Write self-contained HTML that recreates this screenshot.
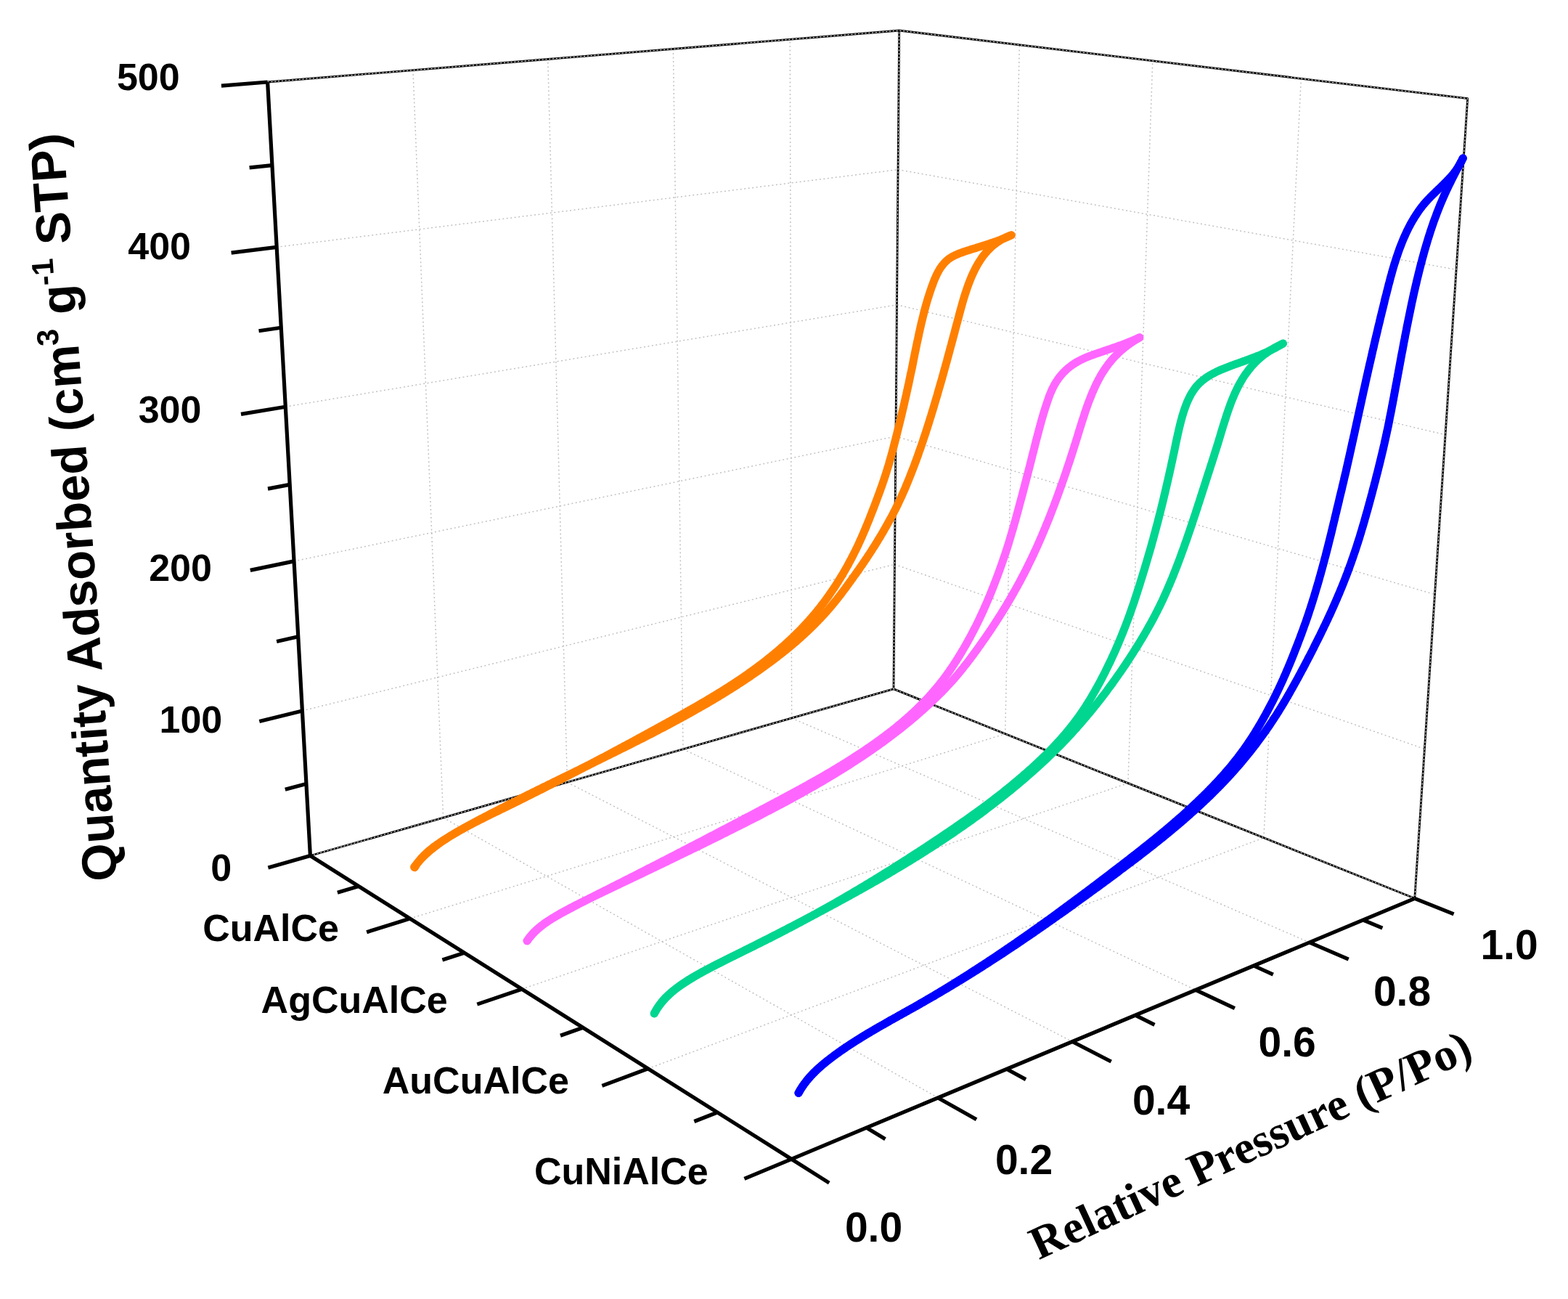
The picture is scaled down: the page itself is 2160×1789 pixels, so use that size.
<!DOCTYPE html>
<html lang="en">
<head>
<meta charset="utf-8">
<title>N2 adsorption-desorption isotherms</title>
<style>
html,body{margin:0;padding:0;background:#fff;}
body{width:2160px;height:1789px;overflow:hidden;}
svg{display:block;}
text{font-family:"Liberation Sans",Arial,Helvetica,sans-serif;font-weight:bold;fill:#000;}
text.serif{font-family:"Liberation Serif","Times New Roman",Times,serif;}
.g{stroke:#c2c2c2;stroke-width:1.5;stroke-dasharray:2 3.5;fill:none;}
.e{stroke:#000;stroke-width:2.8;fill:none;stroke-linejoin:round;}
.e2{stroke:#fff;stroke-width:1;fill:none;stroke-dasharray:2.2 2.6;}
.a{stroke:#000;stroke-width:5.2;fill:none;stroke-linejoin:miter;stroke-linecap:butt;}
.t{stroke:#000;stroke-width:5.2;stroke-linecap:butt;}
</style>
</head>
<body>
<svg xmlns="http://www.w3.org/2000/svg" width="2160" height="1789" viewBox="0 0 2160 1789">
<rect width="2160" height="1789" fill="#fff"/>
<g id="grid"><line class="g" x1="610.6" y1="1126.2" x2="568.9" y2="96.7"/><line class="g" x1="610.6" y1="1126.2" x2="1292.2" y2="1511.9"/><line class="g" x1="781.4" y1="1077.4" x2="754.7" y2="81.5"/><line class="g" x1="781.4" y1="1077.4" x2="1477.2" y2="1434.5"/><line class="g" x1="941" y1="1031.8" x2="927.4" y2="67.4"/><line class="g" x1="941" y1="1031.8" x2="1647.1" y2="1363.4"/><line class="g" x1="1090.6" y1="989" x2="1088.3" y2="54.3"/><line class="g" x1="1090.6" y1="989" x2="1803.8" y2="1297.9"/><line class="g" x1="1384.7" y1="1010.7" x2="1404.3" y2="61.8"/><line class="g" x1="564.8" y1="1265.1" x2="1384.7" y2="1010.7"/><line class="g" x1="1553.9" y1="1078.6" x2="1587.8" y2="83.8"/><line class="g" x1="718.8" y1="1362.2" x2="1553.9" y2="1078.6"/><line class="g" x1="1740.9" y1="1153.8" x2="1792.3" y2="108.3"/><line class="g" x1="892.6" y1="1471.8" x2="1740.9" y2="1153.8"/><line class="g" x1="416.4" y1="978.9" x2="1232.4" y2="777.3"/><line class="g" x1="1232.4" y1="777.3" x2="1962.4" y2="1031.5"/><line class="g" x1="405" y1="772.9" x2="1233.9" y2="601"/><line class="g" x1="1233.9" y1="601" x2="1976.5" y2="818.7"/><line class="g" x1="393.3" y1="560.2" x2="1235.5" y2="419.8"/><line class="g" x1="1235.5" y1="419.8" x2="1991" y2="598.8"/><line class="g" x1="381.2" y1="340.3" x2="1237.1" y2="233.6"/><line class="g" x1="1237.1" y1="233.6" x2="2006.1" y2="371.3"/></g>
<g id="edges"><polyline class="e" points="368.6,113 1238.7,42 2021.7,135.7 1948.8,1237.3 1231,948.9 427.4,1178.5"/><line class="e" x1="1231" y1="948.9" x2="1238.7" y2="42"/><polyline class="e2" points="368.6,113 1238.7,42 2021.7,135.7 1948.8,1237.3 1231,948.9 427.4,1178.5"/><line class="e2" x1="1231" y1="948.9" x2="1238.7" y2="42"/></g>
<g id="curves" fill="none" stroke-width="11" stroke-linecap="round" stroke-linejoin="round"><g stroke="#ff8000"><path d="M571.3 1194.8L572.6 1192.6L574 1190.4L575.4 1188.3L576.9 1186.2L578.4 1184.3L580 1182.3L581.7 1180.5L583.4 1178.7L585.2 1176.9L587 1175.2L588.9 1173.5L590.7 1171.8L592.7 1170.2L594.6 1168.7L596.6 1167.1L598.7 1165.6L600.7 1164.1L602.8 1162.7L604.9 1161.3L607 1159.8L609.1 1158.4L611.3 1157L613.4 1155.7L615.6 1154.3L617.8 1152.9L620 1151.6L622.2 1150.3L624.4 1149L626.6 1147.7L628.9 1146.4L631.1 1145.1L633.4 1143.8L635.7 1142.5L637.9 1141.3L640.2 1140L642.5 1138.8L644.8 1137.6L647.1 1136.4L649.5 1135.1L651.8 1133.9L654.1 1132.7L656.5 1131.5L658.8 1130.3L661.1 1129.1L663.5 1128L665.8 1126.8L668.2 1125.6L670.6 1124.4L672.9 1123.3L675.3 1122.1L677.7 1120.9L680 1119.8L682.4 1118.6L684.8 1117.5L687.2 1116.3L689.5 1115.1L691.9 1114L694.3 1112.8L696.7 1111.7L699 1110.5L701.4 1109.3L703.8 1108.2L706.1 1107L708.5 1105.8L710.9 1104.7L713.2 1103.5L715.6 1102.3L718 1101.1L720.3 1100L722.7 1098.8L725 1097.6L727.4 1096.4L729.7 1095.3L732.1 1094.1L734.5 1092.9L736.8 1091.7L739.2 1090.5L741.5 1089.4L743.9 1088.2L746.2 1087L748.5 1085.8L750.9 1084.6L753.2 1083.4L755.6 1082.2L757.9 1081L760.3 1079.8L762.6 1078.6L764.9 1077.4L767.3 1076.2L769.6 1075L771.9 1073.8L774.3 1072.6L776.6 1071.4L778.9 1070.2L781.3 1069L783.6 1067.8L785.9 1066.6L788.3 1065.4L790.6 1064.2L792.9 1063L795.2 1061.8L797.6 1060.6L799.9 1059.4L802.2 1058.2L804.5 1056.9L806.8 1055.7L809.2 1054.5L811.5 1053.3L813.8 1052.1L816.1 1050.9L818.4 1049.6L820.7 1048.4L823 1047.2L825.3 1046L827.7 1044.7L830 1043.5L832.3 1042.3L834.6 1041.1L836.9 1039.8L839.2 1038.6L841.5 1037.4L843.8 1036.2L846.1 1034.9L848.4 1033.7L850.7 1032.5L853 1031.2L855.3 1030L857.6 1028.7L859.9 1027.5L862.2 1026.3L864.5 1025L866.8 1023.8L869.1 1022.6L871.4 1021.3L873.7 1020.1L876 1018.8L878.3 1017.6L880.5 1016.3L882.8 1015.1L885.1 1013.9L887.4 1012.6L889.7 1011.4L892 1010.1L894.3 1008.9L896.6 1007.6L898.8 1006.4L901.1 1005.1L903.4 1003.9L905.7 1002.6L908 1001.4L910.2 1000.1L912.5 998.9L914.8 997.6L917.1 996.3L919.4 995.1L921.6 993.8L923.9 992.6L926.2 991.3L928.5 990.1L930.7 988.8L933 987.5L935.3 986.3L937.5 985L939.8 983.7L942.1 982.5L944.3 981.2L946.6 979.9L948.9 978.6L951.1 977.4L953.4 976.1L955.6 974.8L957.9 973.5L960.1 972.2L962.3 970.9L964.6 969.6L966.8 968.3L969 967L971.3 965.7L973.5 964.4L975.7 963.1L977.9 961.8L980.1 960.4L982.3 959.1L984.6 957.8L986.7 956.5L988.9 955.1L991.1 953.8L993.3 952.4L995.5 951.1L997.7 949.7L999.8 948.3L1002 947L1004.2 945.6L1006.3 944.2L1008.4 942.8L1010.6 941.4L1012.7 940L1014.8 938.6L1017 937.2L1019.1 935.8L1021.2 934.4L1023.3 932.9L1025.4 931.5L1027.5 930L1029.6 928.6L1031.6 927.1L1033.7 925.6L1035.8 924.2L1037.8 922.7L1039.8 921.2L1041.9 919.7L1043.9 918.2L1045.9 916.7L1048 915.1L1050 913.6L1052 912.1L1054 910.5L1055.9 909L1057.9 907.4L1059.9 905.8L1061.9 904.2L1063.8 902.6L1065.8 901L1067.7 899.4L1069.7 897.8L1071.6 896.2L1073.5 894.5L1075.4 892.9L1077.3 891.2L1079.2 889.5L1081.1 887.8L1083 886.1L1084.9 884.4L1086.8 882.7L1088.6 881L1090.5 879.2L1092.3 877.5L1094.1 875.7L1095.9 874L1097.7 872.2L1099.5 870.4L1101.3 868.6L1103.1 866.8L1104.8 864.9L1106.6 863.1L1108.3 861.3L1110.1 859.4L1111.8 857.5L1113.5 855.6L1115.2 853.8L1116.8 851.8L1118.5 849.9L1120.1 848L1121.8 846.1L1123.4 844.1L1125 842.2L1126.6 840.2L1128.2 838.2L1129.8 836.3L1131.3 834.3L1132.9 832.3L1134.4 830.2L1135.9 828.2L1137.4 826.2L1138.9 824.1L1140.4 822.1L1141.9 820L1143.3 817.9L1144.8 815.8L1146.2 813.7L1147.6 811.6L1149.1 809.5L1150.5 807.4L1151.8 805.3L1153.2 803.1L1154.6 801L1155.9 798.8L1157.3 796.6L1158.6 794.4L1160 792.2L1161.3 790L1162.6 787.8L1163.9 785.6L1165.1 783.4L1166.4 781.1L1167.7 778.9L1168.9 776.6L1170.1 774.3L1171.4 772L1172.6 769.7L1173.8 767.4L1175 765.1L1176.1 762.8L1177.3 760.5L1178.5 758.1L1179.6 755.8L1180.8 753.4L1181.9 751.1L1183 748.7L1184.1 746.3L1185.2 743.9L1186.3 741.5L1187.4 739.1L1188.4 736.7L1189.5 734.2L1190.5 731.8L1191.6 729.4L1192.6 726.9L1193.6 724.4L1194.6 722L1195.6 719.5L1196.7 717L1197.7 714.5L1198.6 712L1199.6 709.5L1200.6 706.9L1201.6 704.4L1202.6 701.9L1203.6 699.3L1204.6 696.8L1205.5 694.2L1206.5 691.6L1207.5 689L1208.4 686.5L1209.4 683.9L1210.4 681.3L1211.3 678.7L1212.3 676L1213.2 673.4L1214.2 670.8L1215.1 668.2L1216 665.5L1216.9 662.9L1217.8 660.2L1218.7 657.5L1219.6 654.9L1220.4 652.2L1221.3 649.5L1222.1 646.8L1222.9 644.1L1223.8 641.4L1224.6 638.7L1225.3 636L1226.1 633.2L1226.9 630.5L1227.7 627.8L1228.4 625L1229.2 622.3L1229.9 619.5L1230.6 616.8L1231.4 614L1232.1 611.2L1232.8 608.5L1233.5 605.7L1234.2 602.9L1234.9 600.1L1235.6 597.3L1236.3 594.5L1237 591.7L1237.7 588.9L1238.4 586.1L1239.1 583.2L1239.8 580.4L1240.5 577.6L1241.2 574.7L1241.9 571.9L1242.5 569L1243.2 566.2L1243.9 563.3L1244.6 560.5L1245.2 557.6L1245.9 554.7L1246.5 551.8L1247.2 549L1247.8 546.1L1248.5 543.2L1249.1 540.3L1249.8 537.4L1250.4 534.5L1251 531.6L1251.7 528.7L1252.3 525.8L1252.9 522.9L1253.5 520L1254.1 517L1254.7 514.1L1255.4 511.2L1256 508.3L1256.6 505.3L1257.2 502.4L1257.8 499.4L1258.3 496.5L1258.9 493.6L1259.5 490.6L1260.1 487.7L1260.7 484.7L1261.3 481.8L1261.9 478.9L1262.5 475.9L1263.1 473L1263.7 470.1L1264.4 467.2L1265 464.3L1265.6 461.3L1266.2 458.4L1266.9 455.5L1267.5 452.7L1268.2 449.8L1268.8 446.9L1269.5 444L1270.2 441.2L1270.9 438.3L1271.6 435.5L1272.3 432.7L1273 429.9L1273.7 427.1L1274.5 424.3L1275.2 421.5L1276 418.7L1276.8 416L1277.6 413.3L1278.4 410.6L1279.3 407.9L1280.1 405.2L1281 402.5L1281.9 399.9L1282.8 397.3L1283.7 394.6L1284.7 392.1L1285.6 389.5L1286.6 386.9L1287.6 384.4L1288.7 382L1289.8 379.5L1290.9 377.1L1292.2 374.8L1293.4 372.5L1294.7 370.3L1296.1 368.2L1297.6 366.1L1299.2 364.2L1300.8 362.3L1302.5 360.5L1304.4 358.7L1306.3 357.1L1308.3 355.7L1310.5 354.3L1312.7 353L1315.1 351.8L1317.5 350.7L1320 349.6L1322.5 348.6L1325.1 347.7L1327.7 346.8L1330.4 345.9L1333 345L1335.7 344.2L1338.4 343.3L1341.1 342.5L1343.8 341.7L1346.5 340.8L1349.2 340L1351.9 339.1L1354.6 338.3L1357.3 337.4L1359.9 336.6L1362.6 335.7L1365.2 334.8L1367.9 333.9L1370.5 333L1373.1 332.1L1375.7 331.1L1378.3 330.2L1380.8 329.2L1383.3 328.2L1385.8 327.1L1388.3 326.1L1390.7 325L1393.1 323.8"/><path d="M570.6 1194.1L572.1 1192.1L573.7 1190.1L575.3 1188.2L577 1186.4L578.7 1184.5L580.4 1182.7L582.2 1180.9L583.9 1179.2L585.7 1177.4L587.6 1175.7L589.4 1174.1L591.3 1172.4L593.2 1170.8L595.2 1169.2L597.1 1167.6L599.1 1166.1L601.1 1164.5L603.1 1163L605.2 1161.5L607.2 1160.1L609.3 1158.6L611.4 1157.2L613.5 1155.8L615.7 1154.4L617.8 1153L620 1151.6L622.2 1150.3L624.4 1148.9L626.6 1147.6L628.8 1146.3L631 1145L633.3 1143.7L635.5 1142.4L637.8 1141.1L640 1139.8L642.3 1138.6L644.6 1137.3L646.9 1136.1L649.2 1134.8L651.5 1133.6L653.8 1132.4L656.1 1131.2L658.4 1129.9L660.7 1128.7L663 1127.5L665.3 1126.3L667.6 1125L670 1123.8L672.3 1122.6L674.6 1121.4L676.9 1120.2L679.3 1119L681.6 1117.8L683.9 1116.6L686.3 1115.4L688.6 1114.2L690.9 1113L693.3 1111.8L695.6 1110.6L697.9 1109.4L700.3 1108.2L702.6 1107L705 1105.8L707.3 1104.7L709.7 1103.5L712 1102.3L714.4 1101.1L716.7 1099.9L719.1 1098.7L721.5 1097.6L723.8 1096.4L726.2 1095.2L728.5 1094L730.9 1092.9L733.3 1091.7L735.6 1090.5L738 1089.4L740.3 1088.2L742.7 1087L745.1 1085.9L747.4 1084.7L749.8 1083.5L752.2 1082.4L754.6 1081.2L756.9 1080L759.3 1078.9L761.7 1077.7L764 1076.5L766.4 1075.4L768.8 1074.2L771.2 1073.1L773.5 1071.9L775.9 1070.7L778.3 1069.6L780.7 1068.4L783 1067.3L785.4 1066.1L787.8 1064.9L790.2 1063.8L792.5 1062.6L794.9 1061.5L797.3 1060.3L799.7 1059.2L802 1058L804.4 1056.8L806.8 1055.7L809.2 1054.5L811.5 1053.4L813.9 1052.2L816.3 1051L818.6 1049.9L821 1048.7L823.4 1047.5L825.8 1046.4L828.1 1045.2L830.5 1044L832.9 1042.9L835.2 1041.7L837.6 1040.5L840 1039.4L842.3 1038.2L844.7 1037L847.1 1035.9L849.4 1034.7L851.8 1033.5L854.1 1032.4L856.5 1031.2L858.9 1030L861.2 1028.8L863.6 1027.6L865.9 1026.5L868.3 1025.3L870.6 1024.1L873 1022.9L875.3 1021.7L877.7 1020.5L880 1019.4L882.4 1018.2L884.7 1017L887 1015.8L889.4 1014.6L891.7 1013.4L894.1 1012.2L896.4 1011L898.7 1009.8L901 1008.6L903.4 1007.4L905.7 1006.2L908 1004.9L910.3 1003.7L912.7 1002.5L915 1001.3L917.3 1000.1L919.6 998.9L921.9 997.6L924.2 996.4L926.5 995.2L928.8 993.9L931.1 992.7L933.4 991.5L935.7 990.2L938 989L940.3 987.7L942.6 986.5L944.8 985.2L947.1 984L949.4 982.7L951.7 981.4L953.9 980.2L956.2 978.9L958.4 977.6L960.7 976.3L962.9 975.1L965.2 973.8L967.4 972.5L969.7 971.2L971.9 969.9L974.2 968.6L976.4 967.3L978.6 966L980.8 964.7L983.1 963.4L985.3 962L987.5 960.7L989.7 959.4L991.9 958.1L994.1 956.7L996.3 955.4L998.5 954L1000.7 952.7L1002.8 951.3L1005 950L1007.2 948.6L1009.3 947.2L1011.5 945.9L1013.7 944.5L1015.8 943.1L1018 941.7L1020.1 940.3L1022.2 938.9L1024.4 937.5L1026.5 936.1L1028.6 934.7L1030.7 933.3L1032.8 931.9L1034.9 930.4L1037 929L1039.1 927.6L1041.2 926.1L1043.3 924.7L1045.4 923.2L1047.5 921.7L1049.5 920.3L1051.6 918.8L1053.6 917.3L1055.7 915.8L1057.7 914.3L1059.8 912.8L1061.8 911.3L1063.8 909.8L1065.8 908.3L1067.8 906.8L1069.9 905.3L1071.8 903.7L1073.8 902.2L1075.8 900.6L1077.8 899.1L1079.8 897.5L1081.7 896L1083.7 894.4L1085.6 892.8L1087.5 891.2L1089.5 889.6L1091.4 888L1093.3 886.4L1095.2 884.8L1097.1 883.2L1098.9 881.5L1100.8 879.9L1102.7 878.3L1104.5 876.6L1106.3 874.9L1108.1 873.3L1109.9 871.6L1111.7 869.9L1113.5 868.2L1115.3 866.5L1117.1 864.8L1118.8 863.1L1120.6 861.4L1122.3 859.7L1124 857.9L1125.7 856.2L1127.4 854.4L1129.1 852.7L1130.8 850.9L1132.4 849.1L1134.1 847.4L1135.7 845.6L1137.3 843.8L1138.9 842L1140.5 840.1L1142.1 838.3L1143.7 836.5L1145.3 834.6L1146.8 832.8L1148.4 830.9L1149.9 829L1151.4 827.2L1152.9 825.3L1154.4 823.4L1155.9 821.5L1157.4 819.6L1158.9 817.6L1160.3 815.7L1161.8 813.8L1163.3 811.8L1164.7 809.9L1166.2 807.9L1167.6 805.9L1169.1 803.9L1170.5 801.9L1172 799.9L1173.4 797.9L1174.9 795.9L1176.3 793.8L1177.8 791.8L1179.3 789.7L1180.7 787.6L1182.2 785.6L1183.7 783.5L1185.1 781.4L1186.6 779.3L1188.1 777.2L1189.5 775L1191 772.9L1192.4 770.7L1193.9 768.6L1195.3 766.4L1196.7 764.2L1198.2 762.1L1199.6 759.9L1201 757.7L1202.4 755.4L1203.9 753.2L1205.3 751L1206.7 748.7L1208.1 746.5L1209.4 744.2L1210.8 741.9L1212.2 739.7L1213.6 737.4L1214.9 735.1L1216.3 732.8L1217.6 730.5L1219 728.1L1220.3 725.8L1221.6 723.5L1222.9 721.1L1224.2 718.8L1225.5 716.4L1226.8 714L1228.1 711.7L1229.4 709.3L1230.6 706.9L1231.8 704.5L1233.1 702.1L1234.3 699.6L1235.5 697.2L1236.7 694.8L1237.8 692.3L1239 689.9L1240.1 687.4L1241.3 685L1242.4 682.5L1243.5 680L1244.6 677.5L1245.7 675.1L1246.8 672.6L1247.8 670.1L1248.9 667.5L1249.9 665L1251 662.5L1252 660L1253 657.4L1254 654.9L1255 652.4L1256 649.8L1257 647.2L1258 644.7L1259 642.1L1260 639.5L1260.9 636.9L1261.9 634.4L1262.8 631.8L1263.8 629.2L1264.7 626.6L1265.6 623.9L1266.5 621.3L1267.5 618.7L1268.4 616.1L1269.3 613.5L1270.2 610.8L1271.1 608.2L1272 605.5L1272.8 602.9L1273.7 600.2L1274.6 597.6L1275.5 594.9L1276.3 592.2L1277.2 589.6L1278 586.9L1278.9 584.2L1279.8 581.5L1280.6 578.8L1281.4 576.1L1282.3 573.4L1283.1 570.7L1283.9 568L1284.8 565.3L1285.6 562.6L1286.4 559.9L1287.2 557.2L1288 554.5L1288.8 551.7L1289.6 549L1290.5 546.3L1291.3 543.5L1292 540.8L1292.8 538.1L1293.6 535.3L1294.4 532.6L1295.2 529.8L1296 527.1L1296.8 524.3L1297.6 521.6L1298.3 518.8L1299.1 516.1L1299.9 513.3L1300.6 510.5L1301.4 507.8L1302.2 505L1302.9 502.2L1303.7 499.5L1304.5 496.7L1305.2 493.9L1306 491.1L1306.7 488.3L1307.5 485.6L1308.2 482.8L1309 480L1309.7 477.2L1310.5 474.4L1311.2 471.6L1312 468.9L1312.7 466.1L1313.5 463.3L1314.2 460.5L1315 457.7L1315.7 454.9L1316.4 452.1L1317.2 449.3L1317.9 446.5L1318.7 443.7L1319.4 440.9L1320.2 438.2L1320.9 435.4L1321.6 432.6L1322.4 429.8L1323.1 427L1323.9 424.2L1324.7 421.5L1325.4 418.7L1326.2 416L1327 413.2L1327.8 410.5L1328.7 407.8L1329.5 405.1L1330.4 402.4L1331.3 399.8L1332.1 397.1L1333.1 394.5L1334 391.9L1335 389.4L1336 386.8L1337 384.3L1338 381.8L1339.1 379.3L1340.2 376.9L1341.3 374.5L1342.5 372.1L1343.6 369.8L1344.9 367.5L1346.1 365.2L1347.4 363L1348.8 360.8L1350.2 358.6L1351.6 356.5L1353 354.4L1354.5 352.4L1356.1 350.4L1357.7 348.5L1359.3 346.6L1361 344.7L1362.8 343L1364.6 341.2L1366.4 339.5L1368.3 337.9L1370.3 336.3L1372.3 334.8L1374.4 333.3L1376.5 331.9L1378.7 330.6L1380.9 329.3L1383.3 328.1L1385.6 326.9L1388.1 325.9L1390.6 324.8L1393.2 323.9"/></g><g stroke="#ff66ff"><path d="M726.3 1295.9L727.6 1293.7L729.1 1291.6L730.6 1289.6L732.2 1287.7L733.8 1285.8L735.5 1283.9L737.3 1282.2L739.1 1280.5L741 1278.8L742.9 1277.2L744.9 1275.6L746.9 1274.1L748.9 1272.6L751 1271.1L753.1 1269.7L755.2 1268.3L757.4 1267L759.6 1265.6L761.8 1264.3L764.1 1263L766.3 1261.7L768.6 1260.4L770.8 1259.2L773.1 1257.9L775.4 1256.7L777.7 1255.4L780 1254.2L782.3 1253L784.6 1251.7L786.9 1250.5L789.2 1249.3L791.5 1248L793.8 1246.8L796.1 1245.6L798.5 1244.4L800.8 1243.2L803.1 1242L805.4 1240.8L807.8 1239.6L810.1 1238.4L812.4 1237.2L814.8 1236L817.1 1234.8L819.4 1233.6L821.8 1232.4L824.1 1231.2L826.5 1230L828.8 1228.8L831.2 1227.7L833.5 1226.5L835.9 1225.3L838.2 1224.1L840.6 1222.9L842.9 1221.7L845.3 1220.5L847.6 1219.4L849.9 1218.2L852.3 1217L854.6 1215.8L857 1214.6L859.3 1213.4L861.7 1212.2L864 1211L866.4 1209.9L868.7 1208.7L871 1207.5L873.4 1206.3L875.7 1205.1L878.1 1203.9L880.4 1202.7L882.8 1201.5L885.1 1200.3L887.4 1199.1L889.8 1197.9L892.1 1196.7L894.4 1195.5L896.8 1194.4L899.1 1193.2L901.5 1192L903.8 1190.8L906.1 1189.6L908.5 1188.4L910.8 1187.2L913.1 1186L915.5 1184.8L917.8 1183.6L920.1 1182.4L922.5 1181.2L924.8 1180L927.1 1178.8L929.5 1177.6L931.8 1176.4L934.1 1175.2L936.4 1174L938.8 1172.8L941.1 1171.5L943.4 1170.3L945.8 1169.1L948.1 1167.9L950.4 1166.7L952.7 1165.5L955.1 1164.3L957.4 1163.1L959.7 1161.9L962 1160.7L964.4 1159.5L966.7 1158.3L969 1157.1L971.3 1155.9L973.7 1154.6L976 1153.4L978.3 1152.2L980.6 1151L983 1149.8L985.3 1148.6L987.6 1147.4L989.9 1146.2L992.2 1145L994.6 1143.7L996.9 1142.5L999.2 1141.3L1001.5 1140.1L1003.8 1138.9L1006.1 1137.7L1008.5 1136.5L1010.8 1135.2L1013.1 1134L1015.4 1132.8L1017.7 1131.6L1020 1130.4L1022.4 1129.2L1024.7 1127.9L1027 1126.7L1029.3 1125.5L1031.6 1124.3L1033.9 1123.1L1036.3 1121.8L1038.6 1120.6L1040.9 1119.4L1043.2 1118.2L1045.5 1117L1047.8 1115.7L1050.1 1114.5L1052.4 1113.3L1054.7 1112.1L1057.1 1110.9L1059.4 1109.6L1061.7 1108.4L1064 1107.2L1066.3 1106L1068.6 1104.7L1070.9 1103.5L1073.2 1102.3L1075.5 1101.1L1077.8 1099.8L1080.1 1098.6L1082.4 1097.4L1084.7 1096.1L1087 1094.9L1089.3 1093.7L1091.6 1092.4L1093.9 1091.2L1096.2 1089.9L1098.5 1088.7L1100.8 1087.5L1103.1 1086.2L1105.4 1085L1107.6 1083.7L1109.9 1082.5L1112.2 1081.2L1114.5 1079.9L1116.7 1078.7L1119 1077.4L1121.3 1076.1L1123.5 1074.8L1125.8 1073.6L1128 1072.3L1130.3 1071L1132.5 1069.7L1134.7 1068.4L1137 1067.1L1139.2 1065.8L1141.4 1064.5L1143.7 1063.2L1145.9 1061.9L1148.1 1060.6L1150.3 1059.2L1152.5 1057.9L1154.7 1056.6L1156.9 1055.2L1159.1 1053.9L1161.3 1052.5L1163.5 1051.2L1165.7 1049.8L1167.8 1048.5L1170 1047.1L1172.2 1045.7L1174.4 1044.3L1176.5 1042.9L1178.7 1041.5L1180.8 1040.1L1183 1038.7L1185.1 1037.3L1187.3 1035.9L1189.4 1034.5L1191.6 1033L1193.7 1031.6L1195.8 1030.1L1198 1028.7L1200.1 1027.2L1202.2 1025.7L1204.3 1024.3L1206.4 1022.8L1208.5 1021.3L1210.6 1019.8L1212.7 1018.3L1214.8 1016.7L1216.8 1015.2L1218.9 1013.7L1220.9 1012.1L1223 1010.6L1225 1009L1227 1007.4L1229.1 1005.9L1231.1 1004.3L1233.1 1002.7L1235.1 1001.1L1237 999.4L1239 997.8L1241 996.2L1242.9 994.5L1244.9 992.9L1246.8 991.2L1248.7 989.5L1250.6 987.8L1252.5 986.2L1254.4 984.4L1256.3 982.7L1258.2 981L1260 979.3L1261.9 977.5L1263.7 975.8L1265.5 974L1267.3 972.2L1269.1 970.4L1270.9 968.6L1272.6 966.8L1274.4 965L1276.1 963.1L1277.9 961.3L1279.6 959.4L1281.3 957.5L1283 955.6L1284.6 953.7L1286.3 951.8L1287.9 949.9L1289.6 948L1291.2 946.1L1292.8 944.1L1294.4 942.1L1295.9 940.2L1297.5 938.2L1299 936.2L1300.5 934.2L1302 932.2L1303.5 930.2L1305 928.1L1306.5 926.1L1307.9 924L1309.3 922L1310.8 919.9L1312.2 917.8L1313.6 915.7L1314.9 913.6L1316.3 911.5L1317.7 909.4L1319 907.2L1320.4 905.1L1321.7 902.9L1323 900.8L1324.3 898.6L1325.6 896.4L1326.9 894.2L1328.2 892L1329.5 889.8L1330.8 887.6L1332 885.3L1333.3 883.1L1334.5 880.8L1335.8 878.6L1337 876.3L1338.2 874L1339.4 871.7L1340.6 869.4L1341.8 867.1L1343 864.8L1344.2 862.5L1345.4 860.1L1346.5 857.8L1347.7 855.4L1348.8 853.1L1349.9 850.7L1351.1 848.3L1352.2 845.9L1353.3 843.5L1354.4 841.1L1355.5 838.7L1356.5 836.3L1357.6 833.9L1358.7 831.4L1359.7 829L1360.8 826.5L1361.8 824.1L1362.9 821.6L1363.9 819.1L1364.9 816.6L1365.9 814.1L1366.9 811.6L1367.9 809.1L1368.9 806.6L1369.9 804L1370.9 801.5L1371.8 799L1372.8 796.4L1373.8 793.9L1374.7 791.3L1375.7 788.7L1376.6 786.2L1377.5 783.6L1378.5 781L1379.4 778.4L1380.3 775.8L1381.2 773.2L1382.1 770.5L1383 767.9L1383.9 765.3L1384.8 762.7L1385.7 760L1386.5 757.4L1387.4 754.7L1388.2 752.1L1389.1 749.4L1389.9 746.7L1390.7 744L1391.5 741.4L1392.3 738.7L1393.1 736L1393.9 733.3L1394.7 730.6L1395.5 727.9L1396.3 725.2L1397 722.5L1397.8 719.7L1398.6 717L1399.3 714.3L1400.1 711.5L1400.8 708.8L1401.6 706.1L1402.3 703.3L1403.1 700.6L1403.8 697.8L1404.5 695L1405.3 692.3L1406 689.5L1406.8 686.8L1407.5 684L1408.3 681.2L1409 678.4L1409.7 675.6L1410.5 672.9L1411.2 670.1L1411.9 667.3L1412.7 664.5L1413.4 661.7L1414.1 658.9L1414.9 656.1L1415.6 653.3L1416.3 650.5L1417 647.7L1417.8 644.8L1418.5 642L1419.2 639.2L1419.9 636.4L1420.6 633.6L1421.3 630.8L1422 627.9L1422.7 625.1L1423.5 622.3L1424.2 619.5L1424.9 616.6L1425.6 613.8L1426.3 611L1427 608.2L1427.7 605.4L1428.5 602.6L1429.2 599.8L1429.9 597L1430.7 594.2L1431.4 591.4L1432.2 588.6L1432.9 585.8L1433.7 583L1434.4 580.3L1435.2 577.5L1436 574.8L1436.8 572.1L1437.6 569.3L1438.5 566.6L1439.3 563.9L1440.1 561.2L1441 558.6L1441.9 555.9L1442.7 553.3L1443.7 550.6L1444.6 548L1445.5 545.4L1446.5 542.9L1447.6 540.4L1448.6 537.9L1449.7 535.5L1450.9 533.1L1452.1 530.8L1453.4 528.5L1454.7 526.3L1456.1 524.2L1457.5 522.1L1459 520L1460.6 518.1L1462.2 516.1L1463.8 514.3L1465.5 512.4L1467.3 510.7L1469.1 509L1471 507.3L1473 505.7L1474.9 504.2L1477 502.7L1479.1 501.3L1481.2 499.9L1483.5 498.6L1485.7 497.3L1488 496.1L1490.4 494.9L1492.8 493.8L1495.3 492.7L1497.8 491.7L1500.3 490.7L1502.9 489.7L1505.4 488.8L1508 487.8L1510.7 486.9L1513.3 486L1515.9 485.1L1518.6 484.2L1521.2 483.3L1523.8 482.4L1526.5 481.5L1529.1 480.6L1531.7 479.7L1534.4 478.8L1537 477.9L1539.6 477L1542.2 476L1544.8 475.1L1547.4 474.1L1549.9 473.2L1552.5 472.2L1555 471.2L1557.5 470.2L1560 469.1L1562.5 468L1564.9 467L1567.3 465.8L1569.7 464.7"/><path d="M726 1295.6L727.6 1293.6L729.1 1291.7L730.7 1289.7L732.4 1287.9L734.1 1286L735.9 1284.3L737.6 1282.5L739.5 1280.8L741.3 1279.1L743.2 1277.5L745.2 1275.9L747.1 1274.3L749.1 1272.8L751.2 1271.3L753.2 1269.8L755.3 1268.4L757.4 1267L759.6 1265.6L761.7 1264.2L763.9 1262.9L766.1 1261.5L768.3 1260.2L770.6 1258.9L772.8 1257.6L775.1 1256.3L777.3 1255.1L779.6 1253.8L781.9 1252.6L784.2 1251.4L786.5 1250.1L788.9 1248.9L791.2 1247.7L793.5 1246.5L795.9 1245.4L798.2 1244.2L800.6 1243L803 1241.8L805.3 1240.7L807.7 1239.5L810.1 1238.4L812.5 1237.2L814.9 1236.1L817.3 1234.9L819.7 1233.8L822 1232.7L824.4 1231.5L826.8 1230.4L829.2 1229.3L831.6 1228.1L834 1227L836.4 1225.8L838.8 1224.7L841.2 1223.6L843.6 1222.4L846 1221.3L848.4 1220.1L850.8 1219L853.2 1217.9L855.6 1216.7L857.9 1215.6L860.3 1214.4L862.7 1213.3L865.1 1212.2L867.5 1211L869.9 1209.9L872.3 1208.7L874.7 1207.6L877.1 1206.4L879.5 1205.3L881.9 1204.2L884.2 1203L886.6 1201.9L889 1200.7L891.4 1199.6L893.8 1198.4L896.2 1197.3L898.6 1196.1L901 1195L903.3 1193.8L905.7 1192.7L908.1 1191.6L910.5 1190.4L912.9 1189.3L915.3 1188.1L917.7 1187L920 1185.8L922.4 1184.7L924.8 1183.5L927.2 1182.3L929.6 1181.2L931.9 1180L934.3 1178.9L936.7 1177.7L939.1 1176.6L941.5 1175.4L943.8 1174.3L946.2 1173.1L948.6 1172L951 1170.8L953.3 1169.6L955.7 1168.5L958.1 1167.3L960.4 1166.2L962.8 1165L965.2 1163.8L967.6 1162.7L969.9 1161.5L972.3 1160.3L974.7 1159.2L977 1158L979.4 1156.8L981.8 1155.7L984.1 1154.5L986.5 1153.3L988.8 1152.2L991.2 1151L993.6 1149.8L995.9 1148.6L998.3 1147.5L1000.6 1146.3L1003 1145.1L1005.4 1143.9L1007.7 1142.8L1010.1 1141.6L1012.4 1140.4L1014.8 1139.2L1017.1 1138L1019.5 1136.9L1021.8 1135.7L1024.2 1134.5L1026.5 1133.3L1028.9 1132.1L1031.2 1130.9L1033.5 1129.7L1035.9 1128.5L1038.2 1127.3L1040.6 1126.2L1042.9 1125L1045.2 1123.8L1047.6 1122.6L1049.9 1121.3L1052.2 1120.1L1054.5 1118.9L1056.9 1117.7L1059.2 1116.5L1061.5 1115.3L1063.8 1114.1L1066.1 1112.9L1068.5 1111.7L1070.8 1110.4L1073.1 1109.2L1075.4 1108L1077.7 1106.8L1080 1105.5L1082.3 1104.3L1084.6 1103.1L1086.9 1101.8L1089.2 1100.6L1091.5 1099.3L1093.7 1098.1L1096 1096.8L1098.3 1095.6L1100.6 1094.3L1102.9 1093.1L1105.1 1091.8L1107.4 1090.5L1109.7 1089.3L1111.9 1088L1114.2 1086.7L1116.4 1085.4L1118.7 1084.2L1120.9 1082.9L1123.2 1081.6L1125.4 1080.3L1127.7 1079L1129.9 1077.7L1132.1 1076.4L1134.4 1075.1L1136.6 1073.8L1138.8 1072.5L1141 1071.2L1143.2 1069.8L1145.4 1068.5L1147.6 1067.2L1149.8 1065.9L1152 1064.5L1154.2 1063.2L1156.4 1061.8L1158.6 1060.5L1160.8 1059.1L1163 1057.8L1165.1 1056.4L1167.3 1055L1169.4 1053.7L1171.6 1052.3L1173.8 1050.9L1175.9 1049.5L1178 1048.1L1180.2 1046.7L1182.3 1045.3L1184.4 1043.9L1186.6 1042.5L1188.7 1041.1L1190.8 1039.7L1192.9 1038.3L1195 1036.8L1197.1 1035.4L1199.2 1034L1201.3 1032.5L1203.4 1031.1L1205.5 1029.6L1207.5 1028.2L1209.6 1026.7L1211.7 1025.2L1213.7 1023.7L1215.8 1022.3L1217.8 1020.8L1219.8 1019.3L1221.9 1017.8L1223.9 1016.3L1225.9 1014.8L1227.9 1013.2L1230 1011.7L1232 1010.2L1234 1008.7L1235.9 1007.1L1237.9 1005.6L1239.9 1004L1241.9 1002.5L1243.9 1000.9L1245.8 999.3L1247.8 997.7L1249.7 996.1L1251.7 994.6L1253.6 993L1255.5 991.4L1257.4 989.7L1259.4 988.1L1261.3 986.5L1263.2 984.9L1265.1 983.2L1266.9 981.6L1268.8 979.9L1270.7 978.3L1272.6 976.6L1274.4 974.9L1276.3 973.2L1278.1 971.6L1280 969.9L1281.8 968.2L1283.6 966.5L1285.4 964.7L1287.2 963L1289 961.3L1290.8 959.5L1292.6 957.8L1294.3 956L1296.1 954.3L1297.9 952.5L1299.6 950.7L1301.3 948.9L1303 947.1L1304.7 945.3L1306.4 943.5L1308.1 941.7L1309.7 939.9L1311.4 938.1L1313 936.2L1314.7 934.4L1316.3 932.5L1317.9 930.6L1319.5 928.8L1321 926.9L1322.6 925L1324.1 923.1L1325.7 921.2L1327.2 919.3L1328.7 917.3L1330.3 915.4L1331.8 913.5L1333.3 911.5L1334.8 909.5L1336.3 907.6L1337.7 905.6L1339.2 903.6L1340.7 901.6L1342.2 899.6L1343.6 897.6L1345.1 895.6L1346.6 893.6L1348 891.5L1349.5 889.5L1350.9 887.5L1352.4 885.4L1353.8 883.3L1355.3 881.3L1356.7 879.2L1358.2 877.1L1359.6 875L1361.1 872.9L1362.5 870.8L1363.9 868.7L1365.4 866.6L1366.8 864.4L1368.2 862.3L1369.6 860.1L1371 858L1372.4 855.8L1373.8 853.7L1375.2 851.5L1376.6 849.3L1378 847.1L1379.4 844.9L1380.7 842.7L1382.1 840.5L1383.5 838.3L1384.8 836.1L1386.2 833.8L1387.5 831.6L1388.8 829.3L1390.2 827.1L1391.5 824.8L1392.8 822.6L1394.1 820.3L1395.4 818L1396.7 815.7L1398 813.4L1399.3 811.1L1400.6 808.8L1401.9 806.5L1403.1 804.2L1404.4 801.9L1405.6 799.6L1406.9 797.2L1408.1 794.9L1409.3 792.5L1410.6 790.2L1411.8 787.8L1413 785.4L1414.2 783.1L1415.4 780.7L1416.5 778.3L1417.7 775.9L1418.9 773.5L1420 771.1L1421.2 768.7L1422.4 766.3L1423.5 763.9L1424.6 761.5L1425.7 759L1426.9 756.6L1428 754.1L1429.1 751.7L1430.2 749.2L1431.3 746.8L1432.4 744.3L1433.4 741.9L1434.5 739.4L1435.6 736.9L1436.6 734.4L1437.7 731.9L1438.7 729.4L1439.8 726.9L1440.8 724.4L1441.8 721.9L1442.8 719.4L1443.9 716.9L1444.9 714.4L1445.9 711.8L1446.9 709.3L1447.9 706.7L1448.8 704.2L1449.8 701.7L1450.8 699.1L1451.8 696.5L1452.8 694L1453.7 691.4L1454.7 688.8L1455.6 686.3L1456.6 683.7L1457.5 681.1L1458.5 678.5L1459.4 675.9L1460.3 673.3L1461.3 670.7L1462.2 668.1L1463.1 665.5L1464 662.9L1465 660.3L1465.9 657.6L1466.8 655L1467.7 652.4L1468.6 649.7L1469.5 647.1L1470.3 644.4L1471.2 641.8L1472.1 639.2L1473 636.5L1473.9 633.8L1474.7 631.2L1475.6 628.5L1476.5 625.8L1477.3 623.2L1478.2 620.5L1479 617.8L1479.9 615.1L1480.7 612.4L1481.6 609.7L1482.4 607.1L1483.2 604.4L1484.1 601.7L1484.9 599L1485.7 596.3L1486.6 593.5L1487.4 590.8L1488.2 588.2L1489.1 585.5L1489.9 582.8L1490.8 580.1L1491.6 577.4L1492.5 574.7L1493.4 572.1L1494.2 569.4L1495.1 566.8L1496 564.1L1496.9 561.5L1497.8 558.9L1498.8 556.3L1499.7 553.7L1500.7 551.1L1501.7 548.6L1502.7 546.1L1503.7 543.5L1504.7 541L1505.8 538.6L1506.9 536.1L1508 533.7L1509.1 531.3L1510.2 528.9L1511.4 526.5L1512.6 524.2L1513.8 521.9L1515.1 519.6L1516.3 517.3L1517.6 515.1L1519 512.9L1520.4 510.7L1521.8 508.6L1523.2 506.5L1524.7 504.5L1526.2 502.4L1527.7 500.4L1529.3 498.5L1530.9 496.5L1532.5 494.6L1534.2 492.8L1535.9 491L1537.6 489.2L1539.4 487.4L1541.2 485.7L1543.1 484L1544.9 482.3L1546.8 480.7L1548.8 479.1L1550.7 477.5L1552.7 476L1554.8 474.5L1556.8 473L1558.9 471.6L1561.1 470.2L1563.2 468.8L1565.4 467.5L1567.6 466.2L1569.9 464.9"/></g><g stroke="#00d68f"><path d="M901.4 1395.9L902.6 1393.5L903.8 1391.2L905.1 1389L906.5 1386.8L907.9 1384.7L909.4 1382.7L910.9 1380.7L912.5 1378.7L914.1 1376.8L915.8 1375L917.6 1373.2L919.4 1371.5L921.2 1369.8L923.1 1368.1L925 1366.5L927 1364.9L928.9 1363.3L930.9 1361.8L933 1360.3L935 1358.8L937.1 1357.4L939.2 1356L941.4 1354.6L943.5 1353.2L945.7 1351.8L947.8 1350.4L950 1349L952.2 1347.7L954.4 1346.4L956.6 1345.1L958.8 1343.7L961.1 1342.4L963.3 1341.1L965.6 1339.9L967.8 1338.6L970.1 1337.3L972.4 1336.1L974.7 1334.8L977 1333.6L979.3 1332.4L981.6 1331.2L983.9 1329.9L986.2 1328.7L988.6 1327.5L990.9 1326.3L993.3 1325.1L995.6 1324L998 1322.8L1000.3 1321.6L1002.7 1320.4L1005 1319.3L1007.4 1318.1L1009.8 1316.9L1012.2 1315.8L1014.5 1314.6L1016.9 1313.4L1019.3 1312.3L1021.7 1311.1L1024 1310L1026.4 1308.8L1028.8 1307.7L1031.2 1306.5L1033.6 1305.3L1035.9 1304.2L1038.3 1303L1040.7 1301.9L1043.1 1300.7L1045.4 1299.5L1047.8 1298.4L1050.1 1297.2L1052.5 1296L1054.9 1294.8L1057.2 1293.6L1059.6 1292.5L1061.9 1291.3L1064.2 1290.1L1066.6 1288.9L1068.9 1287.7L1071.3 1286.5L1073.6 1285.3L1075.9 1284.1L1078.3 1282.9L1080.6 1281.7L1082.9 1280.5L1085.2 1279.2L1087.5 1278L1089.9 1276.8L1092.2 1275.6L1094.5 1274.4L1096.8 1273.1L1099.1 1271.9L1101.4 1270.7L1103.7 1269.4L1106 1268.2L1108.3 1266.9L1110.6 1265.7L1112.9 1264.5L1115.2 1263.2L1117.4 1262L1119.7 1260.7L1122 1259.5L1124.3 1258.2L1126.6 1256.9L1128.8 1255.7L1131.1 1254.4L1133.4 1253.1L1135.6 1251.9L1137.9 1250.6L1140.2 1249.3L1142.4 1248L1144.7 1246.8L1146.9 1245.5L1149.2 1244.2L1151.4 1242.9L1153.7 1241.6L1155.9 1240.3L1158.2 1239L1160.4 1237.7L1162.6 1236.4L1164.9 1235.1L1167.1 1233.8L1169.3 1232.5L1171.6 1231.2L1173.8 1229.9L1176 1228.6L1178.2 1227.3L1180.4 1226L1182.7 1224.7L1184.9 1223.3L1187.1 1222L1189.3 1220.7L1191.5 1219.4L1193.7 1218L1195.9 1216.7L1198.1 1215.4L1200.3 1214L1202.5 1212.7L1204.7 1211.4L1206.9 1210L1209.1 1208.7L1211.3 1207.3L1213.5 1206L1215.7 1204.6L1217.8 1203.3L1220 1201.9L1222.2 1200.6L1224.4 1199.2L1226.6 1197.9L1228.7 1196.5L1230.9 1195.1L1233.1 1193.8L1235.2 1192.4L1237.4 1191L1239.6 1189.7L1241.7 1188.3L1243.9 1186.9L1246.1 1185.5L1248.2 1184.2L1250.4 1182.8L1252.5 1181.4L1254.7 1180L1256.8 1178.6L1259 1177.2L1261.1 1175.8L1263.3 1174.4L1265.4 1173.1L1267.5 1171.7L1269.7 1170.3L1271.8 1168.9L1273.9 1167.5L1276.1 1166.1L1278.2 1164.7L1280.3 1163.2L1282.5 1161.8L1284.6 1160.4L1286.7 1159L1288.8 1157.6L1291 1156.2L1293.1 1154.8L1295.2 1153.4L1297.3 1151.9L1299.4 1150.5L1301.5 1149.1L1303.6 1147.7L1305.8 1146.2L1307.9 1144.8L1310 1143.4L1312.1 1142L1314.2 1140.5L1316.3 1139.1L1318.4 1137.6L1320.4 1136.2L1322.5 1134.7L1324.6 1133.3L1326.7 1131.8L1328.8 1130.4L1330.9 1128.9L1332.9 1127.5L1335 1126L1337.1 1124.5L1339.1 1123.1L1341.2 1121.6L1343.3 1120.1L1345.3 1118.6L1347.4 1117.2L1349.4 1115.7L1351.4 1114.2L1353.5 1112.7L1355.5 1111.2L1357.5 1109.7L1359.6 1108.1L1361.6 1106.6L1363.6 1105.1L1365.6 1103.6L1367.6 1102.1L1369.6 1100.5L1371.6 1099L1373.6 1097.4L1375.6 1095.9L1377.6 1094.3L1379.6 1092.8L1381.6 1091.2L1383.5 1089.6L1385.5 1088L1387.5 1086.5L1389.4 1084.9L1391.4 1083.3L1393.4 1081.7L1395.3 1080L1397.3 1078.4L1399.2 1076.8L1401.2 1075.2L1403.1 1073.5L1405 1071.9L1407 1070.2L1408.9 1068.6L1410.8 1066.9L1412.8 1065.3L1414.7 1063.6L1416.6 1061.9L1418.5 1060.2L1420.4 1058.5L1422.3 1056.8L1424.2 1055.1L1426 1053.3L1427.9 1051.6L1429.8 1049.9L1431.6 1048.1L1433.5 1046.4L1435.3 1044.6L1437.2 1042.8L1439 1041.1L1440.8 1039.3L1442.6 1037.5L1444.4 1035.7L1446.2 1033.8L1448 1032L1449.7 1030.2L1451.5 1028.3L1453.3 1026.5L1455 1024.6L1456.7 1022.7L1458.5 1020.9L1460.2 1019L1461.9 1017.1L1463.6 1015.1L1465.2 1013.2L1466.9 1011.3L1468.6 1009.3L1470.2 1007.4L1471.8 1005.4L1473.4 1003.5L1475 1001.5L1476.6 999.5L1478.2 997.5L1479.8 995.4L1481.3 993.4L1482.8 991.4L1484.3 989.3L1485.8 987.3L1487.3 985.2L1488.7 983.1L1490.2 981L1491.6 978.9L1493 976.8L1494.4 974.7L1495.8 972.6L1497.1 970.4L1498.5 968.3L1499.8 966.1L1501.2 964L1502.5 961.8L1503.8 959.6L1505.1 957.4L1506.3 955.2L1507.6 953L1508.9 950.7L1510.1 948.5L1511.4 946.3L1512.6 944L1513.9 941.8L1515.1 939.5L1516.3 937.2L1517.5 934.9L1518.7 932.6L1519.9 930.3L1521.1 928L1522.3 925.7L1523.4 923.3L1524.6 921L1525.7 918.7L1526.9 916.3L1528 913.9L1529.2 911.6L1530.3 909.2L1531.4 906.8L1532.5 904.4L1533.6 902L1534.7 899.6L1535.8 897.2L1536.9 894.7L1537.9 892.3L1539 889.9L1540.1 887.4L1541.1 884.9L1542.1 882.5L1543.2 880L1544.2 877.5L1545.2 875L1546.2 872.6L1547.2 870.1L1548.2 867.5L1549.2 865L1550.2 862.5L1551.1 860L1552.1 857.5L1553.1 854.9L1554 852.4L1555 849.8L1555.9 847.2L1556.8 844.7L1557.7 842.1L1558.6 839.5L1559.5 836.9L1560.4 834.4L1561.3 831.8L1562.2 829.2L1563.1 826.5L1563.9 823.9L1564.8 821.3L1565.6 818.7L1566.5 816.1L1567.3 813.4L1568.2 810.8L1569 808.1L1569.9 805.5L1570.7 802.8L1571.5 800.1L1572.3 797.5L1573.2 794.8L1574 792.1L1574.8 789.4L1575.6 786.7L1576.5 784.1L1577.3 781.4L1578.1 778.6L1578.9 775.9L1579.7 773.2L1580.5 770.5L1581.3 767.8L1582.1 765L1582.9 762.3L1583.7 759.6L1584.5 756.8L1585.3 754.1L1586.1 751.3L1586.8 748.6L1587.6 745.8L1588.4 743L1589.1 740.3L1589.9 737.5L1590.6 734.7L1591.4 731.9L1592.1 729.1L1592.9 726.3L1593.6 723.5L1594.4 720.7L1595.1 717.9L1595.8 715.1L1596.5 712.3L1597.2 709.5L1598 706.7L1598.7 703.8L1599.4 701L1600.1 698.2L1600.8 695.3L1601.5 692.5L1602.2 689.7L1602.9 686.8L1603.5 684L1604.2 681.1L1604.9 678.3L1605.6 675.4L1606.2 672.5L1606.9 669.7L1607.6 666.8L1608.2 663.9L1608.9 661L1609.5 658.2L1610.2 655.3L1610.8 652.4L1611.5 649.5L1612.1 646.6L1612.8 643.7L1613.4 640.8L1614 637.9L1614.7 635L1615.3 632.1L1615.9 629.2L1616.5 626.3L1617.2 623.3L1617.8 620.4L1618.4 617.5L1619 614.6L1619.6 611.7L1620.2 608.7L1620.8 605.8L1621.5 602.9L1622.1 600L1622.7 597.1L1623.4 594.2L1624 591.3L1624.7 588.5L1625.4 585.6L1626.1 582.8L1626.8 580L1627.6 577.2L1628.3 574.4L1629.1 571.7L1630 569L1630.8 566.3L1631.7 563.7L1632.6 561.1L1633.6 558.5L1634.6 555.9L1635.6 553.4L1636.7 551L1637.8 548.6L1639 546.2L1640.2 543.9L1641.5 541.6L1642.9 539.5L1644.3 537.3L1645.7 535.3L1647.3 533.3L1648.9 531.3L1650.6 529.5L1652.3 527.7L1654.2 526L1656.1 524.4L1658 522.8L1660 521.3L1662.1 519.8L1664.2 518.4L1666.4 517.1L1668.7 515.8L1671 514.5L1673.3 513.3L1675.6 512.1L1678 511L1680.5 509.9L1682.9 508.8L1685.4 507.8L1687.9 506.8L1690.5 505.8L1693 504.8L1695.6 503.8L1698.2 502.9L1700.8 501.9L1703.4 501L1706 500.1L1708.6 499.1L1711.2 498.2L1713.8 497.3L1716.4 496.3L1719 495.4L1721.6 494.4L1724.1 493.5L1726.7 492.5L1729.2 491.5L1731.8 490.5L1734.3 489.5L1736.8 488.5L1739.3 487.4L1741.8 486.3L1744.2 485.3L1746.6 484.1L1749 483L1751.4 481.9L1753.8 480.7L1756.1 479.5L1758.4 478.3L1760.7 477L1762.9 475.7L1765.2 474.4L1767.3 473"/><path d="M901.2 1395.7L902.5 1393.4L903.8 1391.3L905.2 1389.1L906.7 1387L908.1 1385L909.7 1383L911.2 1381L912.9 1379.1L914.5 1377.2L916.2 1375.3L917.9 1373.5L919.7 1371.8L921.5 1370L923.3 1368.3L925.2 1366.6L927.1 1365L929 1363.4L930.9 1361.8L932.9 1360.3L934.9 1358.7L937 1357.2L939 1355.8L941.1 1354.3L943.3 1352.9L945.4 1351.5L947.5 1350.1L949.7 1348.8L951.9 1347.4L954.1 1346.1L956.4 1344.8L958.6 1343.5L960.9 1342.2L963.1 1341L965.4 1339.7L967.7 1338.5L970 1337.3L972.3 1336L974.7 1334.8L977 1333.6L979.3 1332.4L981.7 1331.2L984 1330L986.4 1328.9L988.7 1327.7L991.1 1326.5L993.4 1325.3L995.8 1324.1L998.1 1322.9L1000.5 1321.7L1002.8 1320.6L1005.2 1319.4L1007.5 1318.2L1009.9 1317L1012.2 1315.8L1014.6 1314.6L1016.9 1313.5L1019.3 1312.3L1021.6 1311.1L1024 1309.9L1026.3 1308.7L1028.7 1307.5L1031 1306.3L1033.4 1305.2L1035.7 1304L1038.1 1302.8L1040.4 1301.6L1042.8 1300.4L1045.1 1299.2L1047.5 1298L1049.8 1296.8L1052.1 1295.6L1054.5 1294.5L1056.8 1293.3L1059.2 1292.1L1061.5 1290.9L1063.9 1289.7L1066.2 1288.5L1068.5 1287.3L1070.9 1286.1L1073.2 1284.9L1075.6 1283.7L1077.9 1282.5L1080.2 1281.3L1082.6 1280.1L1084.9 1278.9L1087.2 1277.7L1089.6 1276.5L1091.9 1275.3L1094.2 1274.1L1096.5 1272.9L1098.9 1271.7L1101.2 1270.5L1103.5 1269.3L1105.9 1268L1108.2 1266.8L1110.5 1265.6L1112.8 1264.4L1115.1 1263.2L1117.5 1262L1119.8 1260.8L1122.1 1259.5L1124.4 1258.3L1126.7 1257.1L1129 1255.9L1131.3 1254.7L1133.7 1253.4L1136 1252.2L1138.3 1251L1140.6 1249.7L1142.9 1248.5L1145.2 1247.3L1147.5 1246L1149.8 1244.8L1152.1 1243.6L1154.4 1242.3L1156.7 1241.1L1158.9 1239.8L1161.2 1238.6L1163.5 1237.3L1165.8 1236.1L1168.1 1234.8L1170.4 1233.6L1172.7 1232.3L1174.9 1231.1L1177.2 1229.8L1179.5 1228.6L1181.8 1227.3L1184 1226L1186.3 1224.8L1188.6 1223.5L1190.8 1222.2L1193.1 1220.9L1195.3 1219.7L1197.6 1218.4L1199.9 1217.1L1202.1 1215.8L1204.4 1214.5L1206.6 1213.3L1208.9 1212L1211.1 1210.7L1213.3 1209.4L1215.6 1208.1L1217.8 1206.8L1220.1 1205.5L1222.3 1204.2L1224.5 1202.9L1226.7 1201.6L1229 1200.3L1231.2 1198.9L1233.4 1197.6L1235.6 1196.3L1237.8 1195L1240 1193.7L1242.3 1192.3L1244.5 1191L1246.7 1189.7L1248.9 1188.3L1251.1 1187L1253.3 1185.7L1255.4 1184.3L1257.6 1183L1259.8 1181.6L1262 1180.3L1264.2 1178.9L1266.4 1177.5L1268.5 1176.2L1270.7 1174.8L1272.9 1173.5L1275 1172.1L1277.2 1170.7L1279.3 1169.3L1281.5 1168L1283.7 1166.6L1285.8 1165.2L1287.9 1163.8L1290.1 1162.4L1292.2 1161L1294.4 1159.6L1296.5 1158.2L1298.6 1156.8L1300.8 1155.4L1302.9 1154L1305 1152.6L1307.1 1151.1L1309.2 1149.7L1311.3 1148.3L1313.4 1146.9L1315.5 1145.4L1317.6 1144L1319.7 1142.5L1321.8 1141.1L1323.9 1139.6L1326 1138.2L1328.1 1136.7L1330.1 1135.3L1332.2 1133.8L1334.3 1132.4L1336.3 1130.9L1338.4 1129.4L1340.5 1127.9L1342.5 1126.4L1344.6 1125L1346.6 1123.5L1348.7 1122L1350.7 1120.5L1352.7 1119L1354.8 1117.5L1356.8 1116L1358.8 1114.4L1360.8 1112.9L1362.8 1111.4L1364.8 1109.9L1366.8 1108.3L1368.8 1106.8L1370.8 1105.3L1372.8 1103.7L1374.8 1102.2L1376.8 1100.6L1378.8 1099.1L1380.8 1097.5L1382.7 1096L1384.7 1094.4L1386.7 1092.8L1388.6 1091.2L1390.6 1089.7L1392.5 1088.1L1394.5 1086.5L1396.4 1084.9L1398.3 1083.3L1400.3 1081.7L1402.2 1080.1L1404.1 1078.5L1406 1076.8L1407.9 1075.2L1409.9 1073.6L1411.8 1072L1413.7 1070.3L1415.5 1068.7L1417.4 1067L1419.3 1065.4L1421.2 1063.7L1423.1 1062.1L1424.9 1060.4L1426.8 1058.7L1428.7 1057.1L1430.5 1055.4L1432.4 1053.7L1434.2 1052L1436 1050.3L1437.9 1048.6L1439.7 1046.9L1441.5 1045.2L1443.3 1043.5L1445.1 1041.7L1446.9 1040L1448.7 1038.3L1450.5 1036.6L1452.3 1034.8L1454.1 1033.1L1455.8 1031.3L1457.6 1029.6L1459.3 1027.8L1461.1 1026L1462.8 1024.3L1464.5 1022.5L1466.2 1020.7L1467.9 1018.9L1469.6 1017.1L1471.3 1015.3L1473 1013.5L1474.7 1011.7L1476.4 1009.9L1478 1008.1L1479.7 1006.2L1481.3 1004.4L1483 1002.6L1484.6 1000.7L1486.2 998.9L1487.9 997L1489.5 995.1L1491.1 993.3L1492.7 991.4L1494.3 989.5L1495.9 987.6L1497.5 985.7L1499.1 983.8L1500.7 981.9L1502.3 980L1503.8 978.1L1505.4 976.2L1507 974.3L1508.5 972.3L1510.1 970.4L1511.6 968.5L1513.1 966.5L1514.7 964.5L1516.2 962.6L1517.7 960.6L1519.2 958.6L1520.8 956.7L1522.3 954.7L1523.8 952.7L1525.3 950.7L1526.7 948.7L1528.2 946.6L1529.7 944.6L1531.2 942.6L1532.7 940.6L1534.1 938.5L1535.6 936.5L1537.1 934.4L1538.5 932.4L1540 930.3L1541.4 928.2L1542.9 926.2L1544.3 924.1L1545.8 922L1547.2 919.9L1548.6 917.8L1550.1 915.7L1551.5 913.5L1552.9 911.4L1554.3 909.3L1555.7 907.1L1557.1 905L1558.5 902.8L1559.9 900.7L1561.3 898.5L1562.6 896.3L1564 894.2L1565.4 892L1566.8 889.8L1568.1 887.6L1569.5 885.4L1570.8 883.1L1572.2 880.9L1573.5 878.7L1574.9 876.4L1576.2 874.2L1577.5 871.9L1578.8 869.7L1580.1 867.4L1581.4 865.1L1582.7 862.8L1584 860.5L1585.3 858.2L1586.6 855.9L1587.8 853.6L1589.1 851.3L1590.3 849L1591.5 846.6L1592.7 844.3L1594 841.9L1595.1 839.5L1596.3 837.2L1597.5 834.8L1598.7 832.4L1599.8 830L1601 827.6L1602.1 825.2L1603.2 822.7L1604.3 820.3L1605.4 817.9L1606.5 815.4L1607.6 813L1608.7 810.5L1609.7 808L1610.8 805.6L1611.8 803.1L1612.9 800.6L1613.9 798.1L1615 795.6L1616 793.1L1617 790.5L1618 788L1619 785.5L1620 782.9L1621 780.4L1622 777.8L1622.9 775.3L1623.9 772.7L1624.9 770.1L1625.8 767.6L1626.8 765L1627.7 762.4L1628.7 759.8L1629.6 757.2L1630.6 754.6L1631.5 752L1632.4 749.4L1633.3 746.8L1634.3 744.2L1635.2 741.5L1636.1 738.9L1637 736.3L1637.9 733.7L1638.8 731L1639.7 728.4L1640.6 725.7L1641.5 723.1L1642.4 720.5L1643.2 717.8L1644.1 715.2L1645 712.5L1645.9 709.8L1646.8 707.2L1647.6 704.5L1648.5 701.9L1649.4 699.2L1650.2 696.5L1651.1 693.8L1652 691.2L1652.8 688.5L1653.7 685.8L1654.6 683.1L1655.4 680.5L1656.3 677.8L1657.1 675.1L1658 672.4L1658.9 669.7L1659.7 667L1660.6 664.4L1661.4 661.7L1662.3 659L1663.2 656.3L1664 653.6L1664.9 650.9L1665.8 648.2L1666.7 645.5L1667.5 642.8L1668.4 640.1L1669.3 637.4L1670.1 634.7L1671 632L1671.9 629.3L1672.8 626.5L1673.6 623.8L1674.5 621.1L1675.3 618.4L1676.2 615.6L1677 612.9L1677.9 610.2L1678.7 607.4L1679.5 604.7L1680.4 601.9L1681.2 599.2L1682 596.5L1682.8 593.7L1683.7 591L1684.5 588.3L1685.3 585.6L1686.2 582.9L1687 580.2L1687.9 577.5L1688.8 574.8L1689.6 572.1L1690.5 569.5L1691.4 566.8L1692.3 564.2L1693.2 561.6L1694.2 559L1695.1 556.4L1696.1 553.8L1697.1 551.3L1698.1 548.8L1699.2 546.3L1700.2 543.8L1701.3 541.4L1702.4 538.9L1703.6 536.5L1704.7 534.2L1705.9 531.8L1707.1 529.5L1708.4 527.2L1709.7 525L1711 522.7L1712.3 520.6L1713.7 518.4L1715.1 516.3L1716.6 514.2L1718.1 512.2L1719.6 510.1L1721.2 508.2L1722.8 506.2L1724.4 504.3L1726.1 502.5L1727.8 500.6L1729.5 498.9L1731.3 497.1L1733.1 495.4L1735 493.7L1736.9 492.1L1738.8 490.5L1740.8 488.9L1742.8 487.4L1744.9 485.9L1746.9 484.5L1749.1 483.1L1751.2 481.7L1753.4 480.4L1755.7 479.1L1758 477.8L1760.3 476.6L1762.7 475.4L1765.1 474.3L1767.5 473.2"/></g><g stroke="#0000ff"><path d="M1100.1 1505.4L1101.3 1503.1L1102.6 1500.9L1103.9 1498.7L1105.3 1496.5L1106.7 1494.4L1108.2 1492.3L1109.7 1490.3L1111.2 1488.3L1112.8 1486.3L1114.4 1484.4L1116.1 1482.6L1117.8 1480.7L1119.5 1478.9L1121.2 1477.1L1123 1475.4L1124.8 1473.6L1126.6 1471.9L1128.5 1470.3L1130.4 1468.6L1132.3 1467L1134.2 1465.4L1136.2 1463.8L1138.1 1462.2L1140.1 1460.7L1142.1 1459.1L1144.1 1457.6L1146.1 1456.1L1148.1 1454.6L1150.2 1453.1L1152.2 1451.6L1154.3 1450.2L1156.4 1448.7L1158.4 1447.2L1160.5 1445.8L1162.6 1444.4L1164.7 1442.9L1166.8 1441.5L1169 1440.1L1171.1 1438.7L1173.2 1437.3L1175.4 1435.9L1177.5 1434.6L1179.7 1433.2L1181.9 1431.8L1184 1430.5L1186.2 1429.1L1188.4 1427.8L1190.6 1426.4L1192.8 1425.1L1195 1423.8L1197.2 1422.5L1199.4 1421.1L1201.6 1419.8L1203.8 1418.5L1206.1 1417.2L1208.3 1415.9L1210.5 1414.6L1212.8 1413.3L1215 1412L1217.2 1410.8L1219.5 1409.5L1221.7 1408.2L1224 1406.9L1226.2 1405.6L1228.5 1404.3L1230.7 1403.1L1233 1401.8L1235.3 1400.5L1237.5 1399.2L1239.8 1398L1242 1396.7L1244.3 1395.4L1246.5 1394.1L1248.8 1392.9L1251 1391.6L1253.3 1390.3L1255.6 1389L1257.8 1387.8L1260.1 1386.5L1262.3 1385.2L1264.5 1383.9L1266.8 1382.6L1269 1381.3L1271.3 1380L1273.5 1378.7L1275.7 1377.4L1277.9 1376.1L1280.2 1374.8L1282.4 1373.5L1284.6 1372.2L1286.8 1370.9L1289 1369.6L1291.2 1368.3L1293.5 1366.9L1295.7 1365.6L1297.9 1364.3L1300.1 1362.9L1302.2 1361.6L1304.4 1360.3L1306.6 1358.9L1308.8 1357.6L1311 1356.2L1313.2 1354.9L1315.4 1353.5L1317.5 1352.2L1319.7 1350.8L1321.9 1349.5L1324.1 1348.1L1326.2 1346.8L1328.4 1345.4L1330.5 1344L1332.7 1342.7L1334.9 1341.3L1337 1339.9L1339.2 1338.5L1341.3 1337.1L1343.5 1335.8L1345.6 1334.4L1347.8 1333L1349.9 1331.6L1352 1330.2L1354.2 1328.8L1356.3 1327.4L1358.4 1326L1360.6 1324.6L1362.7 1323.2L1364.8 1321.8L1366.9 1320.4L1369 1319L1371.2 1317.6L1373.3 1316.2L1375.4 1314.7L1377.5 1313.3L1379.6 1311.9L1381.7 1310.5L1383.8 1309L1385.9 1307.6L1388 1306.2L1390.1 1304.8L1392.2 1303.3L1394.3 1301.9L1396.4 1300.4L1398.5 1299L1400.6 1297.6L1402.7 1296.1L1404.8 1294.7L1406.8 1293.2L1408.9 1291.8L1411 1290.3L1413.1 1288.9L1415.1 1287.4L1417.2 1286L1419.3 1284.5L1421.4 1283L1423.4 1281.6L1425.5 1280.1L1427.6 1278.7L1429.6 1277.2L1431.7 1275.7L1433.7 1274.2L1435.8 1272.8L1437.9 1271.3L1439.9 1269.8L1442 1268.3L1444 1266.9L1446.1 1265.4L1448.1 1263.9L1450.2 1262.4L1452.2 1260.9L1454.2 1259.5L1456.3 1258L1458.3 1256.5L1460.4 1255L1462.4 1253.5L1464.4 1252L1466.5 1250.5L1468.5 1249L1470.5 1247.5L1472.6 1246L1474.6 1244.5L1476.6 1243L1478.7 1241.5L1480.7 1240L1482.7 1238.5L1484.7 1237L1486.8 1235.5L1488.8 1234L1490.8 1232.5L1492.8 1231L1494.8 1229.4L1496.9 1227.9L1498.9 1226.4L1500.9 1224.9L1502.9 1223.4L1504.9 1221.9L1506.9 1220.3L1508.9 1218.8L1510.9 1217.3L1512.9 1215.8L1515 1214.3L1517 1212.7L1519 1211.2L1521 1209.7L1523 1208.2L1525 1206.6L1527 1205.1L1529 1203.6L1531 1202L1533 1200.5L1535 1199L1537 1197.4L1539 1195.9L1541 1194.4L1543 1192.8L1545 1191.3L1547 1189.7L1549 1188.2L1551 1186.7L1553 1185.1L1555 1183.6L1557 1182L1559 1180.4L1561 1178.9L1563 1177.3L1565 1175.8L1567 1174.2L1569 1172.6L1571 1171.1L1573 1169.5L1575 1167.9L1577 1166.3L1578.9 1164.8L1580.9 1163.2L1582.9 1161.6L1584.9 1160L1586.9 1158.4L1588.9 1156.8L1590.9 1155.2L1592.8 1153.6L1594.8 1152L1596.8 1150.4L1598.8 1148.8L1600.7 1147.1L1602.7 1145.5L1604.6 1143.9L1606.6 1142.2L1608.5 1140.6L1610.5 1139L1612.4 1137.3L1614.3 1135.7L1616.3 1134L1618.2 1132.3L1620.1 1130.7L1622 1129L1624 1127.3L1625.9 1125.7L1627.8 1124L1629.7 1122.3L1631.6 1120.6L1633.5 1118.9L1635.3 1117.2L1637.2 1115.5L1639.1 1113.7L1641 1112L1642.8 1110.3L1644.7 1108.5L1646.5 1106.8L1648.4 1105.1L1650.2 1103.3L1652.1 1101.5L1653.9 1099.8L1655.7 1098L1657.6 1096.2L1659.4 1094.4L1661.2 1092.6L1663 1090.8L1664.8 1089L1666.5 1087.2L1668.3 1085.4L1670.1 1083.6L1671.9 1081.7L1673.6 1079.9L1675.4 1078L1677.1 1076.2L1678.8 1074.3L1680.5 1072.4L1682.2 1070.5L1683.9 1068.7L1685.6 1066.8L1687.3 1064.9L1689 1062.9L1690.6 1061L1692.3 1059.1L1693.9 1057.2L1695.6 1055.2L1697.2 1053.3L1698.8 1051.3L1700.4 1049.3L1702 1047.3L1703.5 1045.4L1705.1 1043.4L1706.6 1041.4L1708.1 1039.3L1709.6 1037.3L1711.1 1035.3L1712.6 1033.2L1714.1 1031.2L1715.5 1029.1L1717 1027.1L1718.4 1025L1719.8 1022.9L1721.2 1020.8L1722.6 1018.7L1724 1016.6L1725.4 1014.5L1726.7 1012.3L1728.1 1010.2L1729.4 1008.1L1730.7 1005.9L1732 1003.7L1733.3 1001.6L1734.6 999.4L1735.9 997.2L1737.2 995L1738.5 992.8L1739.7 990.6L1741 988.4L1742.2 986.2L1743.5 983.9L1744.7 981.7L1745.9 979.4L1747.1 977.2L1748.3 974.9L1749.5 972.6L1750.7 970.3L1751.9 968L1753.1 965.8L1754.3 963.4L1755.4 961.1L1756.6 958.8L1757.7 956.5L1758.8 954.1L1760 951.8L1761.1 949.5L1762.2 947.1L1763.3 944.7L1764.4 942.4L1765.5 940L1766.6 937.6L1767.7 935.2L1768.7 932.8L1769.8 930.4L1770.9 928L1771.9 925.5L1772.9 923.1L1774 920.7L1775 918.2L1776 915.8L1777.1 913.3L1778.1 910.9L1779.1 908.4L1780.1 905.9L1781.1 903.4L1782.1 900.9L1783.1 898.4L1784 895.9L1785 893.4L1786 890.9L1787 888.4L1788 885.8L1788.9 883.3L1789.9 880.8L1790.9 878.2L1791.8 875.6L1792.8 873.1L1793.7 870.5L1794.7 867.9L1795.6 865.4L1796.5 862.8L1797.4 860.2L1798.4 857.6L1799.3 855L1800.2 852.4L1801.1 849.7L1802 847.1L1802.9 844.5L1803.7 841.8L1804.6 839.2L1805.5 836.6L1806.3 833.9L1807.2 831.3L1808 828.6L1808.8 825.9L1809.7 823.2L1810.5 820.6L1811.3 817.9L1812.1 815.2L1812.9 812.5L1813.7 809.8L1814.5 807.1L1815.3 804.4L1816.1 801.7L1816.9 799L1817.6 796.2L1818.4 793.5L1819.2 790.8L1819.9 788L1820.7 785.3L1821.4 782.5L1822.2 779.8L1822.9 777L1823.7 774.3L1824.4 771.5L1825.1 768.7L1825.9 766L1826.6 763.2L1827.3 760.4L1828 757.6L1828.7 754.9L1829.4 752.1L1830.1 749.3L1830.8 746.5L1831.5 743.7L1832.2 740.9L1832.9 738.1L1833.6 735.3L1834.3 732.4L1835 729.6L1835.6 726.8L1836.3 724L1837 721.2L1837.7 718.3L1838.4 715.5L1839 712.7L1839.7 709.8L1840.4 707L1841.1 704.1L1841.7 701.3L1842.4 698.4L1843.1 695.6L1843.8 692.7L1844.5 689.9L1845.1 687L1845.8 684.2L1846.5 681.3L1847.2 678.4L1847.9 675.6L1848.6 672.7L1849.2 669.8L1849.9 667L1850.6 664.1L1851.3 661.2L1851.9 658.3L1852.6 655.5L1853.3 652.6L1854 649.7L1854.6 646.8L1855.3 643.9L1855.9 641L1856.6 638.2L1857.2 635.3L1857.9 632.4L1858.5 629.5L1859.2 626.6L1859.8 623.7L1860.5 620.8L1861.1 617.9L1861.7 615L1862.4 612.1L1863 609.2L1863.7 606.3L1864.3 603.4L1864.9 600.6L1865.6 597.7L1866.2 594.8L1866.8 591.9L1867.5 589L1868.1 586.1L1868.7 583.2L1869.4 580.3L1870 577.4L1870.6 574.5L1871.3 571.6L1871.9 568.7L1872.5 565.8L1873.2 562.9L1873.8 560L1874.4 557.1L1875.1 554.2L1875.7 551.3L1876.3 548.4L1877 545.5L1877.6 542.6L1878.2 539.7L1878.9 536.8L1879.5 534L1880.2 531.1L1880.8 528.2L1881.4 525.3L1882.1 522.4L1882.7 519.5L1883.4 516.6L1884 513.8L1884.7 510.9L1885.3 508L1886 505.1L1886.6 502.2L1887.3 499.4L1888 496.5L1888.6 493.6L1889.3 490.8L1889.9 487.9L1890.6 485L1891.2 482.1L1891.9 479.3L1892.6 476.4L1893.2 473.5L1893.9 470.7L1894.6 467.8L1895.2 465L1895.9 462.1L1896.6 459.2L1897.3 456.4L1897.9 453.5L1898.6 450.7L1899.3 447.8L1900 445L1900.7 442.1L1901.3 439.3L1902 436.4L1902.7 433.6L1903.4 430.7L1904.1 427.9L1904.8 425.1L1905.5 422.2L1906.2 419.4L1906.9 416.6L1907.5 413.7L1908.2 410.9L1908.9 408.1L1909.7 405.2L1910.4 402.4L1911.1 399.6L1911.8 396.8L1912.5 394L1913.2 391.2L1914 388.4L1914.7 385.6L1915.4 382.8L1916.2 380L1917 377.2L1917.7 374.5L1918.5 371.7L1919.3 369L1920.1 366.3L1920.9 363.6L1921.8 360.9L1922.6 358.2L1923.5 355.5L1924.4 352.9L1925.3 350.3L1926.2 347.6L1927.1 345L1928 342.4L1929 339.9L1930 337.3L1931 334.8L1932 332.3L1933 329.8L1934.1 327.3L1935.2 324.9L1936.3 322.4L1937.4 320L1938.5 317.6L1939.7 315.3L1940.9 312.9L1942.1 310.6L1943.3 308.3L1944.6 306L1945.9 303.8L1947.2 301.6L1948.5 299.4L1949.9 297.2L1951.3 295.1L1952.7 293L1954.1 290.9L1955.6 288.8L1957.1 286.8L1958.7 284.8L1960.2 282.8L1961.8 280.9L1963.4 279L1965.1 277.1L1966.8 275.3L1968.5 273.5L1970.2 271.7L1972 269.9L1973.8 268.1L1975.5 266.4L1977.3 264.7L1979.1 262.9L1980.9 261.2L1982.8 259.5L1984.6 257.8L1986.4 256L1988.1 254.3L1989.9 252.5L1991.7 250.8L1993.4 249L1995.2 247.2L1996.8 245.3L1998.5 243.5L2000.2 241.6L2001.8 239.7L2003.3 237.7L2004.9 235.7L2006.3 233.6L2007.8 231.5L2009.2 229.4L2010.5 227.2L2011.8 224.9L2013 222.6L2014.1 220.3L2015.2 217.8"/><path d="M1099.9 1505.2L1101.2 1503L1102.5 1500.8L1103.9 1498.6L1105.4 1496.5L1106.8 1494.5L1108.3 1492.4L1109.9 1490.5L1111.4 1488.5L1113 1486.6L1114.7 1484.7L1116.3 1482.8L1118 1481L1119.7 1479.1L1121.5 1477.4L1123.2 1475.6L1125 1473.9L1126.9 1472.1L1128.7 1470.5L1130.6 1468.8L1132.4 1467.1L1134.3 1465.5L1136.3 1463.9L1138.2 1462.3L1140.2 1460.7L1142.1 1459.2L1144.1 1457.6L1146.1 1456.1L1148.1 1454.6L1150.1 1453.1L1152.2 1451.6L1154.2 1450.1L1156.3 1448.6L1158.3 1447.1L1160.4 1445.7L1162.5 1444.2L1164.6 1442.8L1166.7 1441.4L1168.8 1440L1170.9 1438.6L1173.1 1437.2L1175.2 1435.8L1177.4 1434.4L1179.5 1433L1181.7 1431.7L1183.9 1430.3L1186 1429L1188.2 1427.6L1190.4 1426.3L1192.6 1425L1194.8 1423.6L1197 1422.3L1199.3 1421L1201.5 1419.7L1203.7 1418.4L1205.9 1417.1L1208.2 1415.8L1210.4 1414.5L1212.7 1413.2L1214.9 1412L1217.2 1410.7L1219.4 1409.4L1221.7 1408.1L1224 1406.9L1226.2 1405.6L1228.5 1404.3L1230.8 1403.1L1233 1401.8L1235.3 1400.6L1237.6 1399.3L1239.8 1398L1242.1 1396.8L1244.4 1395.5L1246.7 1394.3L1248.9 1393L1251.2 1391.8L1253.5 1390.5L1255.7 1389.2L1258 1388L1260.3 1386.7L1262.6 1385.5L1264.8 1384.2L1267.1 1382.9L1269.3 1381.6L1271.6 1380.4L1273.8 1379.1L1276.1 1377.8L1278.3 1376.5L1280.6 1375.2L1282.8 1373.9L1285.1 1372.7L1287.3 1371.4L1289.5 1370.1L1291.7 1368.8L1294 1367.5L1296.2 1366.2L1298.4 1364.8L1300.6 1363.5L1302.9 1362.2L1305.1 1360.9L1307.3 1359.6L1309.5 1358.3L1311.7 1356.9L1313.9 1355.6L1316.1 1354.3L1318.3 1352.9L1320.5 1351.6L1322.7 1350.3L1324.9 1348.9L1327.1 1347.6L1329.2 1346.2L1331.4 1344.9L1333.6 1343.5L1335.8 1342.2L1338 1340.8L1340.1 1339.5L1342.3 1338.1L1344.5 1336.8L1346.6 1335.4L1348.8 1334L1351 1332.7L1353.1 1331.3L1355.3 1329.9L1357.4 1328.5L1359.6 1327.2L1361.7 1325.8L1363.9 1324.4L1366 1323L1368.2 1321.6L1370.3 1320.2L1372.4 1318.8L1374.6 1317.5L1376.7 1316.1L1378.9 1314.7L1381 1313.3L1383.1 1311.9L1385.2 1310.5L1387.4 1309.1L1389.5 1307.6L1391.6 1306.2L1393.7 1304.8L1395.8 1303.4L1398 1302L1400.1 1300.6L1402.2 1299.2L1404.3 1297.7L1406.4 1296.3L1408.5 1294.9L1410.6 1293.5L1412.7 1292L1414.8 1290.6L1416.9 1289.2L1419 1287.8L1421.1 1286.3L1423.2 1284.9L1425.3 1283.4L1427.4 1282L1429.5 1280.6L1431.6 1279.1L1433.6 1277.7L1435.7 1276.2L1437.8 1274.8L1439.9 1273.3L1442 1271.9L1444 1270.4L1446.1 1269L1448.2 1267.5L1450.3 1266.1L1452.3 1264.6L1454.4 1263.1L1456.5 1261.7L1458.5 1260.2L1460.6 1258.8L1462.7 1257.3L1464.7 1255.8L1466.8 1254.4L1468.9 1252.9L1470.9 1251.4L1473 1249.9L1475 1248.5L1477.1 1247L1479.1 1245.5L1481.2 1244L1483.2 1242.6L1485.3 1241.1L1487.3 1239.6L1489.4 1238.1L1491.4 1236.6L1493.5 1235.2L1495.5 1233.7L1497.6 1232.2L1499.6 1230.7L1501.7 1229.2L1503.7 1227.7L1505.7 1226.2L1507.8 1224.7L1509.8 1223.2L1511.9 1221.8L1513.9 1220.3L1515.9 1218.8L1518 1217.3L1520 1215.8L1522 1214.3L1524.1 1212.8L1526.1 1211.3L1528.1 1209.8L1530.1 1208.3L1532.2 1206.8L1534.2 1205.3L1536.2 1203.8L1538.3 1202.3L1540.3 1200.8L1542.3 1199.2L1544.3 1197.7L1546.3 1196.2L1548.4 1194.7L1550.4 1193.2L1552.4 1191.7L1554.4 1190.2L1556.4 1188.7L1558.4 1187.1L1560.4 1185.6L1562.4 1184.1L1564.4 1182.6L1566.4 1181L1568.4 1179.5L1570.4 1178L1572.4 1176.4L1574.4 1174.9L1576.4 1173.4L1578.4 1171.8L1580.4 1170.3L1582.4 1168.7L1584.4 1167.2L1586.3 1165.6L1588.3 1164.1L1590.3 1162.5L1592.2 1160.9L1594.2 1159.4L1596.2 1157.8L1598.1 1156.2L1600.1 1154.7L1602 1153.1L1604 1151.5L1605.9 1149.9L1607.9 1148.3L1609.8 1146.7L1611.7 1145.1L1613.7 1143.5L1615.6 1141.9L1617.5 1140.3L1619.4 1138.7L1621.3 1137.1L1623.3 1135.5L1625.2 1133.8L1627.1 1132.2L1629 1130.6L1630.9 1129L1632.7 1127.3L1634.6 1125.7L1636.5 1124L1638.4 1122.4L1640.2 1120.7L1642.1 1119L1644 1117.4L1645.8 1115.7L1647.7 1114L1649.5 1112.3L1651.4 1110.6L1653.2 1108.9L1655 1107.2L1656.8 1105.5L1658.7 1103.8L1660.5 1102.1L1662.3 1100.4L1664.1 1098.6L1665.9 1096.9L1667.7 1095.2L1669.4 1093.4L1671.2 1091.7L1673 1089.9L1674.8 1088.1L1676.5 1086.4L1678.3 1084.6L1680 1082.8L1681.8 1081L1683.5 1079.2L1685.2 1077.4L1686.9 1075.6L1688.7 1073.8L1690.4 1072L1692.1 1070.1L1693.8 1068.3L1695.4 1066.5L1697.1 1064.6L1698.8 1062.8L1700.5 1060.9L1702.1 1059L1703.8 1057.1L1705.4 1055.3L1707.1 1053.4L1708.7 1051.5L1710.3 1049.6L1711.9 1047.6L1713.5 1045.7L1715.1 1043.8L1716.7 1041.8L1718.3 1039.9L1719.9 1037.9L1721.4 1036L1723 1034L1724.6 1032L1726.1 1030L1727.6 1028.1L1729.2 1026.1L1730.7 1024.1L1732.2 1022L1733.7 1020L1735.2 1018L1736.7 1016L1738.2 1013.9L1739.7 1011.9L1741.2 1009.8L1742.6 1007.8L1744.1 1005.7L1745.5 1003.6L1747 1001.5L1748.4 999.5L1749.8 997.4L1751.2 995.3L1752.6 993.2L1754 991L1755.4 988.9L1756.8 986.8L1758.2 984.7L1759.5 982.5L1760.9 980.4L1762.2 978.2L1763.5 976.1L1764.9 973.9L1766.2 971.7L1767.5 969.6L1768.8 967.4L1770.1 965.2L1771.4 963L1772.7 960.8L1774 958.6L1775.2 956.4L1776.5 954.2L1777.8 951.9L1779 949.7L1780.3 947.5L1781.5 945.2L1782.8 943L1784 940.7L1785.3 938.5L1786.5 936.2L1787.8 934L1789 931.7L1790.2 929.4L1791.5 927.1L1792.7 924.8L1793.9 922.5L1795.2 920.2L1796.4 917.9L1797.6 915.6L1798.8 913.3L1800 911L1801.2 908.7L1802.4 906.3L1803.7 904L1804.9 901.6L1806.1 899.3L1807.3 897L1808.5 894.6L1809.7 892.2L1810.8 889.9L1812 887.5L1813.2 885.1L1814.4 882.7L1815.6 880.4L1816.8 878L1818 875.6L1819.2 873.2L1820.3 870.8L1821.5 868.4L1822.7 866L1823.8 863.5L1825 861.1L1826.2 858.7L1827.3 856.3L1828.5 853.8L1829.6 851.4L1830.7 849L1831.9 846.5L1833 844.1L1834.1 841.6L1835.2 839.2L1836.3 836.7L1837.4 834.2L1838.5 831.7L1839.6 829.3L1840.7 826.8L1841.8 824.3L1842.8 821.8L1843.9 819.3L1845 816.8L1846 814.3L1847 811.8L1848.1 809.3L1849.1 806.8L1850.1 804.2L1851.1 801.7L1852.1 799.2L1853.1 796.6L1854.1 794.1L1855.1 791.5L1856.1 789L1857 786.4L1858 783.9L1858.9 781.3L1859.8 778.7L1860.8 776.1L1861.7 773.5L1862.6 770.9L1863.5 768.4L1864.4 765.8L1865.3 763.1L1866.2 760.5L1867.1 757.9L1867.9 755.3L1868.8 752.7L1869.6 750L1870.5 747.4L1871.3 744.8L1872.2 742.1L1873 739.5L1873.8 736.8L1874.6 734.1L1875.4 731.5L1876.2 728.8L1877 726.1L1877.8 723.4L1878.6 720.7L1879.4 718L1880.1 715.3L1880.9 712.6L1881.7 709.9L1882.4 707.2L1883.2 704.5L1884 701.7L1884.7 699L1885.5 696.2L1886.2 693.5L1887 690.7L1887.7 688L1888.5 685.2L1889.2 682.4L1890 679.7L1890.7 676.9L1891.4 674.1L1892.2 671.3L1892.9 668.5L1893.6 665.7L1894.4 662.9L1895.1 660L1895.8 657.2L1896.5 654.4L1897.3 651.5L1898 648.7L1898.7 645.8L1899.4 643L1900.1 640.1L1900.8 637.3L1901.5 634.4L1902.2 631.5L1902.9 628.6L1903.6 625.7L1904.3 622.8L1905 619.9L1905.7 617L1906.3 614.1L1907 611.2L1907.6 608.3L1908.3 605.4L1908.9 602.5L1909.6 599.5L1910.2 596.6L1910.8 593.7L1911.5 590.7L1912.1 587.8L1912.7 584.8L1913.3 581.9L1913.9 578.9L1914.4 576L1915 573L1915.6 570.1L1916.2 567.1L1916.8 564.1L1917.3 561.2L1917.9 558.2L1918.5 555.2L1919 552.3L1919.6 549.3L1920.1 546.3L1920.7 543.4L1921.2 540.4L1921.8 537.4L1922.3 534.4L1922.9 531.4L1923.4 528.5L1924 525.5L1924.5 522.5L1925.1 519.5L1925.6 516.5L1926.2 513.6L1926.7 510.6L1927.3 507.6L1927.8 504.6L1928.4 501.6L1928.9 498.7L1929.5 495.7L1930 492.7L1930.6 489.7L1931.1 486.7L1931.7 483.8L1932.3 480.8L1932.8 477.8L1933.4 474.9L1933.9 471.9L1934.5 468.9L1935.1 466L1935.6 463L1936.2 460L1936.8 457.1L1937.4 454.1L1937.9 451.2L1938.5 448.2L1939.1 445.3L1939.7 442.3L1940.3 439.4L1940.9 436.5L1941.5 433.5L1942.1 430.6L1942.7 427.7L1943.3 424.8L1943.9 421.8L1944.5 418.9L1945.1 416L1945.8 413.1L1946.4 410.2L1947 407.3L1947.7 404.4L1948.3 401.5L1949 398.7L1949.6 395.8L1950.3 392.9L1951 390.1L1951.6 387.2L1952.3 384.3L1953 381.5L1953.7 378.7L1954.4 375.8L1955.1 373L1955.8 370.2L1956.5 367.4L1957.2 364.6L1958 361.8L1958.7 359L1959.4 356.2L1960.2 353.4L1961 350.6L1961.7 347.9L1962.5 345.1L1963.3 342.4L1964.1 339.6L1964.9 336.9L1965.7 334.2L1966.5 331.5L1967.3 328.8L1968.2 326.1L1969 323.4L1969.9 320.7L1970.7 318.1L1971.6 315.4L1972.5 312.8L1973.4 310.2L1974.3 307.5L1975.2 304.9L1976.2 302.3L1977.1 299.7L1978.1 297.2L1979 294.6L1980 292L1981 289.5L1982 287L1983 284.4L1984 281.9L1985.1 279.4L1986.1 277L1987.2 274.5L1988.2 272L1989.3 269.6L1990.4 267.1L1991.5 264.7L1992.6 262.3L1993.8 259.9L1994.9 257.5L1996 255.1L1997.2 252.7L1998.4 250.4L1999.5 248L2000.7 245.7L2001.9 243.3L2003.1 241L2004.3 238.7L2005.5 236.3L2006.7 234L2007.9 231.7L2009.2 229.4L2010.4 227.1L2011.6 224.8L2012.9 222.5L2014.1 220.2L2015.4 218"/></g></g>
<g id="axes"><polyline class="a" points="368.6,113 427.4,1178.5 1090.2,1596.3 1948.8,1237.3"/><line class="t" x1="427.4" y1="1178.5" x2="369.4" y2="1195.1"/><line class="t" x1="422" y1="1079.5" x2="392.8" y2="1087.3"/><line class="t" x1="416.4" y1="978.9" x2="357.3" y2="993.5"/><line class="t" x1="410.8" y1="876.8" x2="381.1" y2="883.5"/><line class="t" x1="405" y1="772.9" x2="344.8" y2="785.4"/><line class="t" x1="399.2" y1="667.4" x2="369" y2="673.1"/><line class="t" x1="393.3" y1="560.2" x2="332" y2="570.4"/><line class="t" x1="387.3" y1="451.2" x2="356.5" y2="455.7"/><line class="t" x1="381.2" y1="340.3" x2="318.6" y2="348.1"/><line class="t" x1="374.9" y1="227.6" x2="343.6" y2="230.9"/><line class="t" x1="368.6" y1="113" x2="304.9" y2="118.2"/><line class="t" x1="494.2" y1="1220.6" x2="464.9" y2="1229.3"/><line class="t" x1="564.8" y1="1265.1" x2="505.1" y2="1283.7"/><line class="t" x1="639.6" y1="1312.2" x2="609.4" y2="1322"/><line class="t" x1="718.8" y1="1362.2" x2="657.3" y2="1383.1"/><line class="t" x1="803" y1="1415.3" x2="772" y2="1426.3"/><line class="t" x1="892.6" y1="1471.8" x2="829.4" y2="1495.4"/><line class="t" x1="988.2" y1="1532" x2="956.3" y2="1544.5"/><line class="t" x1="1090.2" y1="1596.3" x2="1025.4" y2="1623.4"/><line class="t" x1="1090.2" y1="1596.3" x2="1142.2" y2="1629.1"/><line class="t" x1="1193.5" y1="1553.1" x2="1219.5" y2="1568.7"/><line class="t" x1="1292.2" y1="1511.9" x2="1345.1" y2="1541.8"/><line class="t" x1="1386.7" y1="1472.3" x2="1413.1" y2="1486.6"/><line class="t" x1="1477.2" y1="1434.5" x2="1530.7" y2="1462"/><line class="t" x1="1563.9" y1="1398.2" x2="1590.5" y2="1411.3"/><line class="t" x1="1647.1" y1="1363.4" x2="1700.9" y2="1388.7"/><line class="t" x1="1727" y1="1330" x2="1753.8" y2="1342.1"/><line class="t" x1="1803.8" y1="1297.9" x2="1857.7" y2="1321.2"/><line class="t" x1="1877.7" y1="1267" x2="1904.4" y2="1278.2"/><line class="t" x1="1948.8" y1="1237.3" x2="2002.6" y2="1258.9"/></g>
<g id="text"><text x="247.7" y="123.8" font-size="52" text-anchor="end">500</text><text x="263" y="357.4" font-size="52" text-anchor="end">400</text><text x="277.4" y="581.9" font-size="52" text-anchor="end">300</text><text x="291.9" y="799.8" font-size="52" text-anchor="end">200</text><text x="306.3" y="1009.1" font-size="52" text-anchor="end">100</text><text x="319.2" y="1213" font-size="52" text-anchor="end">0</text><text x="467" y="1296" font-size="52" text-anchor="end">CuAlCe</text><text x="616.7" y="1394.9" font-size="52" text-anchor="end">AgCuAlCe</text><text x="783.9" y="1506" font-size="52" text-anchor="end">AuCuAlCe</text><text x="975.8" y="1630.5" font-size="52" text-anchor="end">CuNiAlCe</text><text x="1203.5" y="1710" font-size="57" text-anchor="middle">0.0</text><text x="1410.5" y="1617" font-size="57" text-anchor="middle">0.2</text><text x="1599.5" y="1535" font-size="57" text-anchor="middle">0.4</text><text x="1773.2" y="1455" font-size="57" text-anchor="middle">0.6</text><text x="1931.5" y="1385" font-size="57" text-anchor="middle">0.8</text><text x="2079" y="1321" font-size="57" text-anchor="middle">1.0</text><text transform="translate(124.2 697) rotate(-94.15)" font-size="67.2" text-anchor="middle">Quantity Adsorbed (cm<tspan font-size="42" dy="-27">3</tspan><tspan dy="27"> g</tspan><tspan font-size="42" dy="-27">-1</tspan><tspan dy="27"> STP)</tspan></text><text class="serif" transform="translate(1731.4 1596.1) rotate(-24.9)" font-size="64" text-anchor="middle">Relative Pressure (P/Po)</text></g>
</svg>
</body>
</html>
